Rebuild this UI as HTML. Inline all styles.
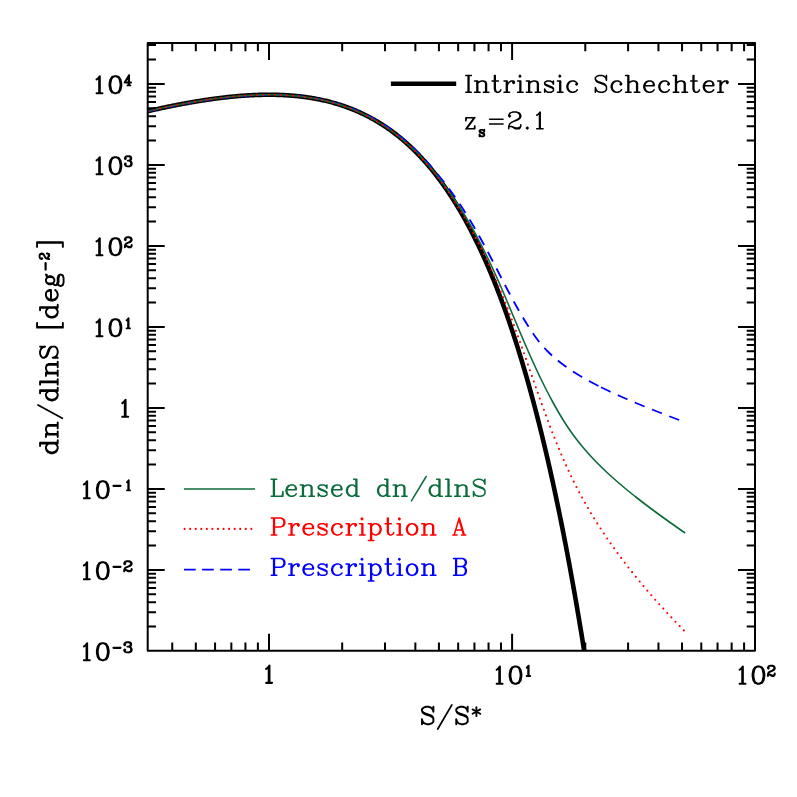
<!DOCTYPE html>
<html><head><meta charset="utf-8"><title>dn/dlnS</title>
<style>
html,body{margin:0;padding:0;background:#fff;}
svg{display:block}
body{font-family:"Liberation Serif",serif}
</style></head><body>
<svg width="797" height="797" viewBox="0 0 797 797">
<rect width="797" height="797" fill="#fff"/>
<defs><clipPath id="cp"><rect x="147.7" y="43.05" width="607.3" height="607.8000000000001"/></clipPath></defs>
<g clip-path="url(#cp)" fill="none" stroke-linejoin="round">
<path d="M147.70 111.13 L148.70 110.91 L149.70 110.68 L150.70 110.46 L151.70 110.23 L152.70 110.01 L153.70 109.79 L154.70 109.57 L155.70 109.35 L156.70 109.13 L157.70 108.91 L158.70 108.69 L159.70 108.48 L160.70 108.26 L161.70 108.05 L162.70 107.84 L163.70 107.63 L164.70 107.42 L165.70 107.21 L166.70 107.00 L167.70 106.80 L168.70 106.59 L169.70 106.39 L170.70 106.18 L171.70 105.98 L172.70 105.78 L173.70 105.58 L174.70 105.39 L175.70 105.19 L176.70 105.00 L177.70 104.80 L178.70 104.61 L179.70 104.42 L180.70 104.23 L181.70 104.04 L182.70 103.85 L183.70 103.67 L184.70 103.49 L185.70 103.30 L186.70 103.12 L187.70 102.94 L188.70 102.76 L189.70 102.59 L190.70 102.41 L191.70 102.24 L192.70 102.07 L193.70 101.90 L194.70 101.73 L195.70 101.56 L196.70 101.39 L197.70 101.23 L198.70 101.07 L199.70 100.90 L200.70 100.74 L201.70 100.59 L202.70 100.43 L203.70 100.28 L204.70 100.12 L205.70 99.97 L206.70 99.82 L207.70 99.68 L208.70 99.53 L209.70 99.39 L210.70 99.24 L211.70 99.10 L212.70 98.96 L213.70 98.83 L214.70 98.69 L215.70 98.56 L216.70 98.43 L217.70 98.30 L218.70 98.17 L219.70 98.05 L220.70 97.92 L221.70 97.80 L222.70 97.68 L223.70 97.57 L224.70 97.45 L225.70 97.34 L226.70 97.23 L227.70 97.12 L228.70 97.01 L229.70 96.91 L230.70 96.80 L231.70 96.70 L232.70 96.60 L233.70 96.51 L234.70 96.42 L235.70 96.32 L236.70 96.23 L237.70 96.15 L238.70 96.06 L239.70 95.98 L240.70 95.90 L241.70 95.83 L242.70 95.75 L243.70 95.68 L244.70 95.61 L245.70 95.54 L246.70 95.48 L247.70 95.41 L248.70 95.35 L249.70 95.30 L250.70 95.24 L251.70 95.19 L252.70 95.14 L253.70 95.10 L254.70 95.05 L255.70 95.01 L256.70 94.97 L257.70 94.94 L258.70 94.91 L259.70 94.88 L260.70 94.85 L261.70 94.83 L262.70 94.81 L263.70 94.79 L264.70 94.77 L265.70 94.76 L266.70 94.75 L267.70 94.75 L268.70 94.74 L269.70 94.75 L270.70 94.75 L271.70 94.76 L272.70 94.77 L273.70 94.78 L274.70 94.80 L275.70 94.82 L276.70 94.84 L277.70 94.87 L278.70 94.90 L279.70 94.93 L280.70 94.97 L281.70 95.01 L282.70 95.05 L283.70 95.10 L284.70 95.15 L285.70 95.21 L286.70 95.27 L287.70 95.33 L288.70 95.40 L289.70 95.47 L290.70 95.54 L291.70 95.62 L292.70 95.70 L293.70 95.79 L294.70 95.88 L295.70 95.97 L296.70 96.07 L297.70 96.17 L298.70 96.28 L299.70 96.39 L300.70 96.50 L301.70 96.62 L302.70 96.74 L303.70 96.87 L304.70 97.00 L305.70 97.14 L306.70 97.28 L307.70 97.43 L308.70 97.57 L309.70 97.73 L310.70 97.89 L311.70 98.05 L312.70 98.22 L313.70 98.39 L314.70 98.57 L315.70 98.75 L316.70 98.94 L317.70 99.14 L318.70 99.33 L319.70 99.54 L320.70 99.74 L321.70 99.96 L322.70 100.18 L323.70 100.40 L324.70 100.63 L325.70 100.86 L326.70 101.10 L327.70 101.35 L328.70 101.60 L329.70 101.85 L330.70 102.11 L331.70 102.38 L332.70 102.66 L333.70 102.93 L334.70 103.22 L335.70 103.51 L336.70 103.81 L337.70 104.11 L338.70 104.42 L339.70 104.73 L340.70 105.05 L341.70 105.38 L342.70 105.71 L343.70 106.05 L344.70 106.40 L345.70 106.75 L346.70 107.11 L347.70 107.48 L348.70 107.85 L349.70 108.23 L350.70 108.61 L351.70 109.01 L352.70 109.41 L353.70 109.81 L354.70 110.23 L355.70 110.65 L356.70 111.07 L357.70 111.51 L358.70 111.95 L359.70 112.40 L360.70 112.86 L361.70 113.32 L362.70 113.80 L363.70 114.28 L364.70 114.76 L365.70 115.26 L366.70 115.76 L367.70 116.27 L368.70 116.79 L369.70 117.32 L370.70 117.86 L371.70 118.40 L372.70 118.95 L373.70 119.51 L374.70 120.08 L375.70 120.66 L376.70 121.25 L377.70 121.84 L378.70 122.45 L379.70 123.06 L380.70 123.68 L381.70 124.31 L382.70 124.95 L383.70 125.60 L384.70 126.26 L385.70 126.93 L386.70 127.61 L387.70 128.30 L388.70 128.99 L389.70 129.70 L390.70 130.42 L391.70 131.14 L392.70 131.88 L393.70 132.63 L394.70 133.39 L395.70 134.15 L396.70 134.93 L397.70 135.72 L398.70 136.52 L399.70 137.33 L400.70 138.15 L401.70 138.98 L402.70 139.83 L403.70 140.68 L404.70 141.55 L405.70 142.43 L406.70 143.31 L407.70 144.22 L408.70 145.13 L409.70 146.05 L410.70 146.99 L411.70 147.94 L412.70 148.90 L413.70 149.87 L414.70 150.85 L415.70 151.85 L416.70 152.86 L417.70 153.88 L418.70 154.92 L419.70 155.97 L420.70 157.03 L421.70 158.11 L422.70 159.20 L423.70 160.30 L424.70 161.41 L425.70 162.54 L426.70 163.69 L427.70 164.84 L428.70 166.02 L429.70 167.20 L430.70 168.40 L431.70 169.62 L432.70 170.85 L433.70 172.09 L434.70 173.35 L435.70 174.63 L436.70 175.92 L437.70 177.23 L438.70 178.55 L439.70 179.88 L440.70 181.24 L441.70 182.61 L442.70 183.99 L443.70 185.39 L444.70 186.81 L445.70 188.25 L446.70 189.70 L447.70 191.17 L448.70 192.65 L449.70 194.16 L450.70 195.68 L451.70 197.22 L452.70 198.77 L453.70 200.35 L454.70 201.94 L455.70 203.55 L456.70 205.18 L457.70 206.82 L458.70 208.49 L459.70 210.18 L460.70 211.88 L461.70 213.61 L462.70 215.35 L463.70 217.11 L464.70 218.90 L465.70 220.70 L466.70 222.52 L467.70 224.37 L468.70 226.23 L469.70 228.12 L470.70 230.03 L471.70 231.96 L472.70 233.91 L473.70 235.88 L474.70 237.87 L475.70 239.89 L476.70 241.93 L477.70 243.99 L478.70 246.07 L479.70 248.18 L480.70 250.31 L481.70 252.46 L482.70 254.64 L483.70 256.84 L484.70 259.06 L485.70 261.31 L486.70 263.59 L487.70 265.89 L488.70 268.21 L489.70 270.56 L490.70 272.93 L491.70 275.33 L492.70 277.76 L493.70 280.21 L494.70 282.69 L495.70 285.20 L496.70 287.73 L497.70 290.29 L498.70 292.88 L499.70 295.49 L500.70 298.14 L501.70 300.81 L502.70 303.51 L503.70 306.24 L504.70 309.00 L505.70 311.79 L506.70 314.60 L507.70 317.45 L508.70 320.33 L509.70 323.24 L510.70 326.18 L511.70 329.15 L512.70 332.15 L513.70 335.18 L514.70 338.25 L515.70 341.35 L516.70 344.48 L517.70 347.64 L518.70 350.84 L519.70 354.07 L520.70 357.33 L521.70 360.63 L522.70 363.97 L523.70 367.33 L524.70 370.74 L525.70 374.18 L526.70 377.65 L527.70 381.16 L528.70 384.71 L529.70 388.29 L530.70 391.92 L531.70 395.58 L532.70 399.27 L533.70 403.01 L534.70 406.78 L535.70 410.60 L536.70 414.45 L537.70 418.34 L538.70 422.28 L539.70 426.25 L540.70 430.27 L541.70 434.32 L542.70 438.42 L543.70 442.56 L544.70 446.74 L545.70 450.97 L546.70 455.24 L547.70 459.55 L548.70 463.91 L549.70 468.31 L550.70 472.76 L551.70 477.25 L552.70 481.79 L553.70 486.37 L554.70 491.00 L555.70 495.68 L556.70 500.41 L557.70 505.18 L558.70 510.01 L559.70 514.88 L560.70 519.80 L561.70 524.77 L562.70 529.79 L563.70 534.87 L564.70 539.99 L565.70 545.17 L566.70 550.40 L567.70 555.68 L568.70 561.01 L569.70 566.40 L570.70 571.85 L571.70 577.35 L572.70 582.90 L573.70 588.51 L574.70 594.18 L575.70 599.90 L576.70 605.68 L577.70 611.52 L578.70 617.42 L579.70 623.38 L580.70 629.40 L581.70 635.47 L582.70 641.61 L583.70 647.81 L584.70 654.08" stroke="#000" stroke-width="4.6"/>
<path d="M147.70 111.53 L148.70 111.30 L149.70 111.08 L150.70 110.85 L151.70 110.63 L152.70 110.40 L153.70 110.18 L154.70 109.96 L155.70 109.73 L156.70 109.51 L157.70 109.30 L158.70 109.08 L159.70 108.86 L160.70 108.65 L161.70 108.43 L162.70 108.22 L163.70 108.01 L164.70 107.79 L165.70 107.58 L166.70 107.38 L167.70 107.17 L168.70 106.96 L169.70 106.76 L170.70 106.55 L171.70 106.35 L172.70 106.15 L173.70 105.95 L174.70 105.75 L175.70 105.55 L176.70 105.36 L177.70 105.16 L178.70 104.97 L179.70 104.78 L180.70 104.59 L181.70 104.40 L182.70 104.21 L183.70 104.02 L184.70 103.84 L185.70 103.65 L186.70 103.47 L187.70 103.29 L188.70 103.11 L189.70 102.93 L190.70 102.75 L191.70 102.58 L192.70 102.41 L193.70 102.23 L194.70 102.06 L195.70 101.89 L196.70 101.73 L197.70 101.56 L198.70 101.40 L199.70 101.23 L200.70 101.07 L201.70 100.91 L202.70 100.76 L203.70 100.60 L204.70 100.45 L205.70 100.29 L206.70 100.14 L207.70 99.99 L208.70 99.85 L209.70 99.70 L210.70 99.56 L211.70 99.42 L212.70 99.28 L213.70 99.14 L214.70 99.00 L215.70 98.87 L216.70 98.74 L217.70 98.61 L218.70 98.48 L219.70 98.35 L220.70 98.23 L221.70 98.10 L222.70 97.98 L223.70 97.86 L224.70 97.75 L225.70 97.63 L226.70 97.52 L227.70 97.41 L228.70 97.30 L229.70 97.20 L230.70 97.09 L231.70 96.99 L232.70 96.89 L233.70 96.79 L234.70 96.70 L235.70 96.61 L236.70 96.52 L237.70 96.43 L238.70 96.34 L239.70 96.26 L240.70 96.18 L241.70 96.10 L242.70 96.02 L243.70 95.95 L244.70 95.88 L245.70 95.81 L246.70 95.74 L247.70 95.68 L248.70 95.62 L249.70 95.56 L250.70 95.51 L251.70 95.45 L252.70 95.40 L253.70 95.35 L254.70 95.31 L255.70 95.27 L256.70 95.23 L257.70 95.19 L258.70 95.16 L259.70 95.13 L260.70 95.09 L261.70 95.06 L262.70 95.03 L263.70 95.01 L264.70 94.98 L265.70 94.96 L266.70 94.95 L267.70 94.93 L268.70 94.92 L269.70 94.91 L270.70 94.91 L271.70 94.91 L272.70 94.91 L273.70 94.92 L274.70 94.92 L275.70 94.94 L276.70 94.95 L277.70 94.97 L278.70 94.99 L279.70 95.02 L280.70 95.05 L281.70 95.08 L282.70 95.11 L283.70 95.15 L284.70 95.20 L285.70 95.24 L286.70 95.30 L287.70 95.35 L288.70 95.41 L289.70 95.47 L290.70 95.53 L291.70 95.60 L292.70 95.67 L293.70 95.75 L294.70 95.82 L295.70 95.91 L296.70 95.99 L297.70 96.08 L298.70 96.18 L299.70 96.28 L300.70 96.38 L301.70 96.49 L302.70 96.60 L303.70 96.72 L304.70 96.84 L305.70 96.96 L306.70 97.09 L307.70 97.23 L308.70 97.36 L309.70 97.51 L310.70 97.66 L311.70 97.81 L312.70 97.97 L313.70 98.13 L314.70 98.29 L315.70 98.47 L316.70 98.64 L317.70 98.82 L318.70 99.01 L319.70 99.20 L320.70 99.40 L321.70 99.60 L322.70 99.81 L323.70 100.02 L324.70 100.24 L325.70 100.46 L326.70 100.69 L327.70 100.92 L328.70 101.16 L329.70 101.41 L330.70 101.66 L331.70 101.92 L332.70 102.18 L333.70 102.45 L334.70 102.73 L335.70 103.01 L336.70 103.30 L337.70 103.59 L338.70 103.89 L339.70 104.20 L340.70 104.51 L341.70 104.83 L342.70 105.16 L343.70 105.49 L344.70 105.83 L345.70 106.17 L346.70 106.52 L347.70 106.88 L348.70 107.24 L349.70 107.61 L350.70 107.99 L351.70 108.37 L352.70 108.77 L353.70 109.16 L354.70 109.57 L355.70 109.98 L356.70 110.40 L357.70 110.83 L358.70 111.26 L359.70 111.70 L360.70 112.15 L361.70 112.60 L362.70 113.06 L363.70 113.52 L364.70 114.00 L365.70 114.48 L366.70 114.97 L367.70 115.47 L368.70 115.97 L369.70 116.49 L370.70 117.01 L371.70 117.54 L372.70 118.08 L373.70 118.62 L374.70 119.18 L375.70 119.74 L376.70 120.32 L377.70 120.90 L378.70 121.49 L379.70 122.09 L380.70 122.70 L381.70 123.31 L382.70 123.94 L383.70 124.58 L384.70 125.22 L385.70 125.88 L386.70 126.54 L387.70 127.21 L388.70 127.90 L389.70 128.59 L390.70 129.29 L391.70 130.01 L392.70 130.73 L393.70 131.46 L394.70 132.21 L395.70 132.96 L396.70 133.73 L397.70 134.50 L398.70 135.29 L399.70 136.09 L400.70 136.88 L401.70 137.69 L402.70 138.50 L403.70 139.33 L404.70 140.17 L405.70 141.02 L406.70 141.88 L407.70 142.75 L408.70 143.64 L409.70 144.53 L410.70 145.44 L411.70 146.36 L412.70 147.30 L413.70 148.24 L414.70 149.20 L415.70 150.17 L416.70 151.15 L417.70 152.15 L418.70 153.16 L419.70 154.18 L420.70 155.20 L421.70 156.23 L422.70 157.27 L423.70 158.33 L424.70 159.40 L425.70 160.49 L426.70 161.58 L427.70 162.70 L428.70 163.82 L429.70 164.96 L430.70 166.12 L431.70 167.29 L432.70 168.47 L433.70 169.67 L434.70 170.89 L435.70 172.12 L436.70 173.36 L442.40 180.00 L443.18 181.00 L443.95 182.00 L444.73 183.00 L445.49 184.00 L446.25 185.00 L447.01 186.00 L447.75 187.00 L448.50 188.00 L449.24 189.00 L449.97 190.00 L450.70 191.00 L451.42 192.00 L452.14 193.00 L452.85 194.00 L453.56 195.00 L454.27 196.00 L454.97 197.00 L455.66 198.00 L456.35 199.00 L457.04 200.00 L457.72 201.00 L458.39 202.00 L459.06 203.00 L459.73 204.00 L460.40 205.00 L461.05 206.00 L461.71 207.00 L462.36 208.00 L463.01 209.00 L463.65 210.00 L464.29 211.00 L464.92 212.00 L465.56 213.00 L466.18 214.00 L466.81 215.00 L467.43 216.00 L468.04 217.00 L468.66 218.00 L469.27 219.00 L469.87 220.00 L470.48 221.00 L471.08 222.00 L471.67 223.00 L472.27 224.00 L472.86 225.00 L473.45 226.00 L474.03 227.00 L474.61 228.00 L475.19 229.00 L475.77 230.00 L476.34 231.00 L476.91 232.00 L477.48 233.00 L478.05 234.00 L478.61 235.00 L479.17 236.00 L479.73 237.00 L480.29 238.00 L480.84 239.00 L481.39 240.00 L481.94 241.00 L482.49 242.00 L483.04 243.00 L483.58 244.00 L484.13 245.00 L484.67 246.00 L485.21 247.00 L485.74 248.00 L486.28 249.00 L486.81 250.00 L487.35 251.00 L487.88 252.00 L488.41 253.00 L488.94 254.00 L489.46 255.00 L489.99 256.00 L490.51 257.00 L491.04 258.00 L491.56 259.00 L492.08 260.00 L492.61 261.00 L493.13 262.00 L493.65 263.00 L494.16 264.00 L494.68 265.00 L495.20 266.00 L495.72 267.00 L496.24 268.00 L496.75 269.00 L497.27 270.00 L497.78 271.00 L498.30 272.00 L498.82 273.00 L499.33 274.00 L499.85 275.00 L500.36 276.00 L500.88 277.00 L501.39 278.00 L501.91 279.00 L502.43 280.00 L502.94 281.00 L503.46 282.00 L503.98 283.00 L504.50 284.00 L505.02 285.00 L505.54 286.00 L506.06 287.00 L506.58 288.00 L507.10 289.00 L507.63 290.00 L508.15 291.00 L508.68 292.00 L509.21 293.00 L509.74 294.00 L510.27 295.00 L510.80 296.00 L511.34 297.00 L511.88 298.00 L512.42 299.00 L512.96 300.00 L513.50 301.00 L514.05 302.00 L514.60 303.00 L515.15 304.00 L515.70 305.00 L516.26 306.00 L516.82 307.00 L517.38 308.00 L517.95 309.00 L518.52 310.00 L519.09 311.00 L519.67 312.00 L520.24 313.00 L520.83 314.00 L521.41 315.00 L522.00 316.00 L522.60 317.00 L523.20 318.00 L523.80 319.00 L524.40 320.00 L525.01 321.00 L525.63 322.00 L526.25 323.00 L526.87 324.00 L527.50 325.00 L528.13 326.00 L528.77 327.00 L529.41 328.00 L530.06 329.00 L530.71 330.00 L531.37 331.00 L532.04 332.00 L532.72 333.00 L533.40 334.00 L534.10 335.00 L534.81 336.00 L535.52 337.00 L536.26 338.00 L537.00 339.00 L537.76 340.00 L538.53 341.00 L539.32 342.00 L540.13 343.00 L540.95 344.00 L541.80 345.00 L542.66 346.00 L543.54 347.00 L544.45 348.00 L545.37 349.00 L546.32 350.00 L547.29 351.00 L548.29 352.00 L549.31 353.00 L550.36 354.00 L551.43 355.00 L552.53 356.00 L553.66 357.00 L554.81 358.00 L555.99 359.00 L557.20 360.00 L558.43 361.00 L559.69 362.00 L560.97 363.00 L562.29 364.00 L563.63 365.00 L565.00 366.00 L566.40 367.00 L567.82 368.00 L569.28 369.00 L570.76 370.00 L572.27 371.00 L573.81 372.00 L575.38 373.00 L576.98 374.00 L578.61 375.00 L580.27 376.00 L581.96 377.00 L583.68 378.00 L585.43 379.00 L587.21 380.00 L589.02 381.00 L590.86 382.00 L592.73 383.00 L594.64 384.00 L596.57 385.00 L598.54 386.00" stroke="#0000ff" stroke-width="1.8" stroke-dasharray="10.8 7.8" stroke-dashoffset="0"/>
<path d="M601.00 387.23 L602.56 388.00 L604.61 389.00 L606.69 390.00 L608.80 391.00 L610.94 392.00 L613.10 393.00 L615.28 394.00 L617.50 395.00 L619.73 396.00 L621.99 397.00 L624.28 398.00 L626.58 399.00 L628.91 400.00 L631.26 401.00 L633.63 402.00 L636.02 403.00 L638.43 404.00 L640.86 405.00 L643.30 406.00 L645.77 407.00 L648.25 408.00 L650.74 409.00 L653.26 410.00 L655.78 411.00 L658.33 412.00 L660.88 413.00 L663.45 414.00 L666.03 415.00 L668.62 416.00 L671.23 417.00 L673.84 418.00 L676.47 419.00 L679.10 420.00 L681.74 421.00 L684.39 422.00" stroke="#0000ff" stroke-width="1.8" stroke-dasharray="10.6 7.95" stroke-dashoffset="0"/>
<path d="M147.70 111.13 L148.70 110.91 L149.70 110.68 L150.70 110.46 L151.70 110.23 L152.70 110.01 L153.70 109.79 L154.70 109.57 L155.70 109.35 L156.70 109.13 L157.70 108.91 L158.70 108.69 L159.70 108.48 L160.70 108.26 L161.70 108.05 L162.70 107.84 L163.70 107.63 L164.70 107.42 L165.70 107.21 L166.70 107.00 L167.70 106.80 L168.70 106.59 L169.70 106.39 L170.70 106.18 L171.70 105.98 L172.70 105.78 L173.70 105.58 L174.70 105.39 L175.70 105.19 L176.70 105.00 L177.70 104.80 L178.70 104.61 L179.70 104.42 L180.70 104.23 L181.70 104.04 L182.70 103.85 L183.70 103.67 L184.70 103.49 L185.70 103.30 L186.70 103.12 L187.70 102.94 L188.70 102.76 L189.70 102.59 L190.70 102.41 L191.70 102.24 L192.70 102.07 L193.70 101.90 L194.70 101.73 L195.70 101.56 L196.70 101.39 L197.70 101.23 L198.70 101.07 L199.70 100.90 L200.70 100.74 L201.70 100.59 L202.70 100.43 L203.70 100.28 L204.70 100.12 L205.70 99.97 L206.70 99.82 L207.70 99.68 L208.70 99.53 L209.70 99.39 L210.70 99.24 L211.70 99.10 L212.70 98.96 L213.70 98.83 L214.70 98.69 L215.70 98.56 L216.70 98.43 L217.70 98.30 L218.70 98.17 L219.70 98.05 L220.70 97.92 L221.70 97.80 L222.70 97.68 L223.70 97.57 L224.70 97.45 L225.70 97.34 L226.70 97.23 L227.70 97.12 L228.70 97.01 L229.70 96.91 L230.70 96.80 L231.70 96.70 L232.70 96.60 L233.70 96.51 L234.70 96.42 L235.70 96.32 L236.70 96.23 L237.70 96.15 L238.70 96.06 L239.70 95.98 L240.70 95.90 L241.70 95.83 L242.70 95.75 L243.70 95.68 L244.70 95.61 L245.70 95.54 L246.70 95.48 L247.70 95.41 L248.70 95.35 L249.70 95.30 L250.70 95.24 L251.70 95.19 L252.70 95.14 L253.70 95.10 L254.70 95.05 L255.70 95.01 L256.70 94.97 L257.70 94.94 L258.70 94.91 L259.70 94.88 L260.70 94.85 L261.70 94.83 L262.70 94.81 L263.70 94.79 L264.70 94.77 L265.70 94.76 L266.70 94.75 L267.70 94.75 L268.70 94.74 L269.70 94.75 L270.70 94.75 L271.70 94.76 L272.70 94.77 L273.70 94.78 L274.70 94.80 L275.70 94.82 L276.70 94.84 L277.70 94.87 L278.70 94.90 L279.70 94.93 L280.70 94.97 L281.70 95.01 L282.70 95.05 L283.70 95.10 L284.70 95.15 L285.70 95.21 L286.70 95.27 L287.70 95.33 L288.70 95.40 L289.70 95.47 L290.70 95.54 L291.70 95.62 L292.70 95.70 L293.70 95.79 L294.70 95.88 L295.70 95.97 L296.70 96.07 L297.70 96.17 L298.70 96.28 L299.70 96.39 L300.70 96.50 L301.70 96.62 L302.70 96.74 L303.70 96.87 L304.70 97.00 L305.70 97.14 L306.70 97.28 L307.70 97.43 L308.70 97.57 L309.70 97.73 L310.70 97.89 L311.70 98.05 L312.70 98.22 L313.70 98.39 L314.70 98.57 L315.70 98.75 L316.70 98.94 L317.70 99.14 L318.70 99.33 L319.70 99.54 L320.70 99.74 L321.70 99.96 L322.70 100.18 L323.70 100.40 L324.70 100.63 L325.70 100.86 L326.70 101.10 L327.70 101.35 L328.70 101.60 L329.70 101.85 L330.70 102.11 L331.70 102.38 L332.70 102.66 L333.70 102.93 L334.70 103.22 L335.70 103.51 L336.70 103.81 L337.70 104.11 L338.70 104.42 L339.70 104.73 L340.70 105.05 L341.70 105.38 L342.70 105.71 L343.70 106.05 L344.70 106.40 L345.70 106.75 L346.70 107.11 L347.70 107.48 L348.70 107.85 L349.70 108.23 L350.70 108.61 L351.70 109.01 L352.70 109.41 L353.70 109.81 L354.70 110.23 L355.70 110.65 L356.70 111.07 L357.70 111.51 L358.70 111.95 L359.70 112.40 L360.70 112.86 L361.70 113.32 L362.70 113.80 L363.70 114.28 L364.70 114.76 L365.70 115.26 L366.70 115.76 L367.70 116.27 L368.70 116.79 L369.70 117.32 L370.70 117.86 L371.70 118.40 L372.70 118.95 L373.70 119.51 L374.70 120.08 L375.70 120.66 L376.70 121.25 L377.70 121.84 L378.70 122.45 L379.70 123.06 L380.70 123.68 L381.70 124.31 L382.70 124.95 L383.70 125.60 L384.70 126.26 L385.70 126.93 L386.70 127.61 L387.70 128.30 L388.70 128.99 L389.70 129.70 L390.70 130.42 L391.70 131.14 L392.70 131.88 L393.70 132.63 L394.70 133.39 L395.70 134.15 L396.70 134.93 L397.70 135.72 L398.70 136.52 L399.70 137.33 L400.70 138.15 L401.70 138.98 L402.70 139.83 L403.70 140.68 L404.70 141.55 L405.70 142.43 L406.70 143.31 L407.70 144.22 L408.70 145.13 L409.70 146.05 L410.70 146.99 L411.70 147.94 L412.70 148.90 L413.70 149.87 L414.65 150.00 L415.59 151.00 L416.53 152.00 L417.46 153.00 L418.38 154.00 L419.30 155.00 L420.21 156.00 L421.12 157.00 L422.02 158.00 L422.91 159.00 L423.80 160.00 L424.68 161.00 L425.55 162.00 L426.42 163.00 L427.29 164.00 L428.14 165.00 L429.00 166.00 L429.84 167.00 L430.68 168.00 L431.52 169.00 L432.35 170.00 L433.17 171.00 L433.99 172.00 L434.80 173.00 L435.61 174.00 L436.41 175.00 L437.20 176.00 L438.00 177.00 L438.78 178.00 L439.56 179.00 L440.34 180.00 L441.11 181.00 L441.87 182.00 L442.63 183.00 L443.38 184.00 L444.13 185.00 L444.88 186.00 L445.62 187.00 L446.35 188.00 L447.08 189.00 L447.80 190.00 L448.52 191.00 L449.24 192.00 L449.95 193.00 L450.65 194.00 L451.35 195.00 L452.05 196.00 L452.74 197.00 L453.43 198.00 L454.11 199.00 L454.79 200.00 L455.46 201.00 L456.13 202.00 L456.79 203.00 L457.45 204.00 L458.11 205.00 L458.76 206.00 L459.41 207.00 L460.05 208.00 L460.69 209.00 L461.33 210.00 L461.96 211.00 L462.59 212.00 L463.21 213.00 L463.83 214.00 L464.44 215.00 L465.05 216.00 L465.66 217.00 L466.27 218.00 L466.87 219.00 L467.46 220.00 L468.05 221.00 L468.64 222.00 L469.23 223.00 L469.81 224.00 L470.39 225.00 L470.96 226.00 L471.53 227.00 L472.10 228.00 L472.67 229.00 L473.23 230.00 L473.79 231.00 L474.34 232.00 L474.89 233.00 L475.44 234.00 L475.98 235.00 L476.53 236.00 L477.07 237.00 L477.60 238.00 L478.13 239.00 L478.66 240.00 L479.19 241.00 L479.72 242.00 L480.24 243.00 L480.76 244.00 L481.27 245.00 L481.78 246.00 L482.30 247.00 L482.80 248.00 L483.31 249.00 L483.81 250.00 L484.31 251.00 L484.81 252.00 L485.30 253.00 L485.80 254.00 L486.29 255.00 L486.78 256.00 L487.26 257.00 L487.74 258.00 L488.23 259.00 L488.71 260.00 L489.18 261.00 L489.66 262.00 L490.13 263.00 L490.60 264.00 L491.07 265.00 L491.54 266.00 L492.00 267.00 L492.47 268.00 L492.93 269.00 L493.39 270.00 L493.84 271.00 L494.30 272.00 L494.75 273.00 L495.21 274.00 L495.66 275.00 L496.11 276.00 L496.56 277.00 L497.00 278.00 L497.45 279.00 L497.89 280.00 L498.33 281.00 L498.78 282.00 L499.22 283.00 L499.65 284.00 L500.09 285.00 L500.53 286.00 L500.96 287.00 L501.40 288.00 L501.83 289.00 L502.26 290.00 L502.69 291.00 L503.12 292.00 L503.55 293.00 L503.98 294.00 L504.41 295.00 L504.83 296.00 L505.26 297.00 L505.68 298.00 L506.11 299.00 L506.53 300.00 L506.96 301.00 L507.38 302.00 L507.80 303.00 L508.22 304.00 L508.64 305.00 L509.06 306.00 L509.48 307.00 L509.90 308.00 L510.32 309.00 L510.74 310.00 L511.16 311.00 L511.58 312.00 L512.00 313.00 L512.41 314.00 L512.83 315.00 L513.25 316.00 L513.67 317.00 L514.09 318.00 L514.50 319.00 L514.92 320.00 L515.34 321.00 L515.76 322.00 L516.18 323.00 L516.60 324.00 L517.01 325.00 L517.43 326.00 L517.85 327.00 L518.27 328.00 L518.69 329.00 L519.11 330.00 L519.53 331.00 L519.95 332.00 L520.38 333.00 L520.80 334.00 L521.22 335.00 L521.65 336.00 L522.07 337.00 L522.49 338.00 L522.92 339.00 L523.35 340.00 L523.77 341.00 L524.20 342.00 L524.63 343.00 L525.06 344.00 L525.49 345.00 L525.92 346.00 L526.36 347.00 L526.79 348.00 L527.22 349.00 L527.66 350.00 L528.10 351.00 L528.54 352.00 L528.98 353.00 L529.42 354.00 L529.86 355.00 L530.30 356.00 L530.75 357.00 L531.19 358.00 L531.64 359.00 L532.09 360.00 L532.54 361.00 L532.99 362.00 L533.45 363.00 L533.90 364.00 L534.36 365.00 L534.82 366.00 L535.28 367.00 L535.74 368.00 L536.20 369.00 L536.67 370.00 L537.14 371.00 L537.60 372.00 L538.08 373.00 L538.55 374.00 L539.02 375.00 L539.50 376.00 L539.98 377.00 L540.46 378.00 L540.95 379.00 L541.43 380.00 L541.92 381.00 L542.41 382.00 L542.90 383.00 L543.40 384.00 L543.90 385.00 L544.40 386.00 L544.90 387.00 L545.40 388.00 L545.91 389.00 L546.42 390.00 L546.93 391.00 L547.45 392.00 L547.96 393.00 L548.48 394.00 L549.01 395.00 L549.53 396.00 L550.06 397.00 L550.59 398.00 L551.13 399.00 L551.66 400.00 L552.20 401.00 L552.74 402.00 L553.29 403.00 L553.84 404.00 L554.39 405.00 L554.95 406.00 L555.51 407.00 L556.07 408.00 L556.64 409.00 L557.21 410.00 L557.78 411.00 L558.36 412.00 L558.94 413.00 L559.53 414.00 L560.13 415.00 L560.73 416.00 L561.33 417.00 L561.94 418.00 L562.55 419.00 L563.17 420.00 L563.80 421.00 L564.43 422.00 L565.07 423.00 L565.72 424.00 L566.37 425.00 L567.03 426.00 L567.69 427.00 L568.37 428.00 L569.05 429.00 L569.73 430.00 L570.43 431.00 L571.13 432.00 L571.84 433.00 L572.56 434.00 L573.29 435.00 L574.02 436.00 L574.77 437.00 L575.52 438.00 L576.28 439.00 L577.05 440.00 L577.83 441.00 L578.62 442.00 L579.42 443.00 L580.22 444.00 L581.04 445.00 L581.86 446.00 L582.70 447.00 L583.54 448.00 L584.39 449.00 L585.25 450.00 L586.12 451.00 L587.00 452.00 L587.89 453.00 L588.79 454.00 L589.70 455.00 L590.61 456.00 L591.54 457.00 L592.47 458.00 L593.42 459.00 L594.37 460.00 L595.33 461.00 L596.30 462.00 L597.28 463.00 L598.27 464.00 L599.27 465.00 L600.28 466.00 L601.30 467.00 L602.32 468.00 L603.36 469.00 L604.40 470.00 L605.45 471.00 L606.52 472.00 L607.59 473.00 L608.67 474.00 L609.76 475.00 L610.86 476.00 L611.97 477.00 L613.08 478.00 L614.21 479.00 L615.34 480.00 L616.49 481.00 L617.64 482.00 L618.80 483.00 L619.96 484.00 L621.14 485.00 L622.32 486.00 L623.51 487.00 L624.71 488.00 L625.92 489.00 L627.13 490.00 L628.36 491.00 L629.58 492.00 L630.82 493.00 L632.07 494.00 L633.32 495.00 L634.57 496.00 L635.84 497.00 L637.11 498.00 L638.39 499.00 L639.67 500.00 L640.97 501.00 L642.26 502.00 L643.57 503.00 L644.88 504.00 L646.20 505.00 L647.52 506.00 L648.85 507.00 L650.18 508.00 L651.52 509.00 L652.87 510.00 L654.22 511.00 L655.58 512.00 L656.94 513.00 L658.31 514.00 L659.68 515.00 L661.06 516.00 L662.44 517.00 L663.83 518.00 L665.22 519.00 L666.62 520.00 L668.02 521.00 L669.42 522.00 L670.83 523.00 L672.25 524.00 L673.67 525.00 L675.09 526.00 L676.52 527.00 L677.95 528.00 L679.38 529.00 L680.82 530.00 L682.27 531.00 L683.71 532.00 L685.16 533.00" stroke="#0b6b3b" stroke-width="1.6"/>
<path d="M148.53 110.95h0.01M154.31 109.65h0.01M160.10 108.39h0.01M165.90 107.17h0.01M171.70 105.98h0.01M177.52 104.84h0.01M183.34 103.74h0.01M189.17 102.68h0.01M195.01 101.67h0.01M200.85 100.72h0.01M206.71 99.82h0.01M209.93 99.35h0.01M215.80 98.55h0.01M221.68 97.80h0.01M227.57 97.13h0.01M233.47 96.53h0.01M239.38 96.01h0.01M245.29 95.57h0.01M251.21 95.22h0.01M257.13 94.96h0.01M263.06 94.80h0.01M268.98 94.74h0.01M274.91 94.80h0.01M280.84 94.97h0.01M286.76 95.27h0.01M292.67 95.70h0.01M298.57 96.26h0.01M304.46 96.97h0.01M310.33 97.83h0.01M316.17 98.84h0.01M321.98 100.02h0.01M327.75 101.36h0.01M333.48 102.87h0.01M339.21 104.58h0.01M344.88 106.46h0.01M350.49 108.53h0.01M356.02 110.78h0.01M361.48 113.22h0.01M366.85 115.84h0.01M372.13 118.64h0.01M377.31 121.61h0.01M382.40 124.76h0.01M387.37 128.07h0.01M392.24 131.54h0.01M396.99 135.16h0.01M401.63 138.93h0.01M406.15 142.83h0.01M410.56 146.86h0.01M414.86 151.01h0.01M419.04 155.28h0.01M423.12 159.65h0.01M427.08 164.13h0.01M430.94 168.69h0.01M434.69 173.34h0.01M438.34 178.07h0.01M441.95 182.79h0.01M445.34 187.63h0.01M448.66 192.51h0.01M451.93 197.43h0.01M455.14 202.40h0.01M458.28 207.40h0.01M461.37 212.43h0.01M464.40 217.51h0.01M467.36 222.62h0.01M470.27 227.76h0.01M473.12 232.94h0.01M475.90 238.15h0.01M478.63 243.39h0.01M481.31 248.65h0.01M483.93 253.95h0.01M486.49 259.27h0.01M489.01 264.62h0.01M491.47 269.99h0.01M493.88 275.38h0.01M496.24 280.80h0.01M498.58 286.28h0.01M500.88 291.79h0.01M503.14 297.31h0.01M505.35 302.85h0.01M507.53 308.41h0.01M509.68 313.98h0.01M511.79 319.56h0.01M513.88 325.15h0.01M515.93 330.75h0.01M517.97 336.36h0.01M519.99 341.97h0.01M521.98 347.59h0.01M523.98 353.25h0.01M525.96 358.90h0.01M527.94 364.56h0.01M529.91 370.22h0.01M531.88 375.88h0.01M533.86 381.53h0.01M535.84 387.19h0.01M537.82 392.84h0.01M539.83 398.49h0.01M541.84 404.14h0.01M543.88 409.77h0.01M545.93 415.40h0.01M548.01 421.02h0.01M550.12 426.63h0.01M552.27 432.23h0.01M554.45 437.81h0.01M556.68 443.37h0.01M558.95 448.92h0.01M561.27 454.44h0.01M563.65 459.94h0.01M566.09 465.42h0.01M568.58 470.86h0.01M571.14 476.28h0.01M573.77 481.67h0.01M576.46 487.02h0.01M579.23 492.34h0.01M582.07 497.62h0.01M584.98 502.85h0.01M587.96 508.05h0.01M591.01 513.21h0.01M594.12 518.33h0.01M597.30 523.42h0.01M600.53 528.46h0.01M603.83 533.46h0.01M607.18 538.43h0.01M610.59 543.36h0.01M614.06 548.25h0.01M617.57 553.10h0.01M621.13 557.92h0.01M624.75 562.70h0.01M628.41 567.45h0.01M632.11 572.16h0.01M635.86 576.83h0.01M639.65 581.47h0.01M643.49 586.08h0.01M647.36 590.65h0.01M651.27 595.19h0.01M655.22 599.70h0.01M659.20 604.18h0.01M663.22 608.62h0.01M667.27 613.04h0.01M671.36 617.42h0.01M675.48 621.77h0.01M679.63 626.10h0.01M683.81 630.39h0.01" stroke="#ff0000" stroke-width="2.1" stroke-linecap="round"/>
</g>
<path d="M147.70 626.57L156.00 626.57M755.00 626.57L746.70 626.57M147.70 612.30L156.00 612.30M755.00 612.30L746.70 612.30M147.70 602.18L156.00 602.18M755.00 602.18L746.70 602.18M147.70 594.33L156.00 594.33M755.00 594.33L746.70 594.33M147.70 587.92L156.00 587.92M755.00 587.92L746.70 587.92M147.70 582.50L156.00 582.50M755.00 582.50L746.70 582.50M147.70 577.80L156.00 577.80M755.00 577.80L746.70 577.80M147.70 573.66L156.00 573.66M755.00 573.66L746.70 573.66M147.70 569.95L164.70 569.95M755.00 569.95L738.00 569.95M147.70 545.57L156.00 545.57M755.00 545.57L746.70 545.57M147.70 531.30L156.00 531.30M755.00 531.30L746.70 531.30M147.70 521.18L156.00 521.18M755.00 521.18L746.70 521.18M147.70 513.33L156.00 513.33M755.00 513.33L746.70 513.33M147.70 506.92L156.00 506.92M755.00 506.92L746.70 506.92M147.70 501.50L156.00 501.50M755.00 501.50L746.70 501.50M147.70 496.80L156.00 496.80M755.00 496.80L746.70 496.80M147.70 492.66L156.00 492.66M755.00 492.66L746.70 492.66M147.70 488.95L164.70 488.95M755.00 488.95L738.00 488.95M147.70 464.57L156.00 464.57M755.00 464.57L746.70 464.57M147.70 450.30L156.00 450.30M755.00 450.30L746.70 450.30M147.70 440.18L156.00 440.18M755.00 440.18L746.70 440.18M147.70 432.33L156.00 432.33M755.00 432.33L746.70 432.33M147.70 425.92L156.00 425.92M755.00 425.92L746.70 425.92M147.70 420.50L156.00 420.50M755.00 420.50L746.70 420.50M147.70 415.80L156.00 415.80M755.00 415.80L746.70 415.80M147.70 411.66L156.00 411.66M755.00 411.66L746.70 411.66M147.70 407.95L164.70 407.95M755.00 407.95L738.00 407.95M147.70 383.57L156.00 383.57M755.00 383.57L746.70 383.57M147.70 369.30L156.00 369.30M755.00 369.30L746.70 369.30M147.70 359.18L156.00 359.18M755.00 359.18L746.70 359.18M147.70 351.33L156.00 351.33M755.00 351.33L746.70 351.33M147.70 344.92L156.00 344.92M755.00 344.92L746.70 344.92M147.70 339.50L156.00 339.50M755.00 339.50L746.70 339.50M147.70 334.80L156.00 334.80M755.00 334.80L746.70 334.80M147.70 330.66L156.00 330.66M755.00 330.66L746.70 330.66M147.70 326.95L164.70 326.95M755.00 326.95L738.00 326.95M147.70 302.57L156.00 302.57M755.00 302.57L746.70 302.57M147.70 288.30L156.00 288.30M755.00 288.30L746.70 288.30M147.70 278.18L156.00 278.18M755.00 278.18L746.70 278.18M147.70 270.33L156.00 270.33M755.00 270.33L746.70 270.33M147.70 263.92L156.00 263.92M755.00 263.92L746.70 263.92M147.70 258.50L156.00 258.50M755.00 258.50L746.70 258.50M147.70 253.80L156.00 253.80M755.00 253.80L746.70 253.80M147.70 249.66L156.00 249.66M755.00 249.66L746.70 249.66M147.70 245.95L164.70 245.95M755.00 245.95L738.00 245.95M147.70 221.57L156.00 221.57M755.00 221.57L746.70 221.57M147.70 207.30L156.00 207.30M755.00 207.30L746.70 207.30M147.70 197.18L156.00 197.18M755.00 197.18L746.70 197.18M147.70 189.33L156.00 189.33M755.00 189.33L746.70 189.33M147.70 182.92L156.00 182.92M755.00 182.92L746.70 182.92M147.70 177.50L156.00 177.50M755.00 177.50L746.70 177.50M147.70 172.80L156.00 172.80M755.00 172.80L746.70 172.80M147.70 168.66L156.00 168.66M755.00 168.66L746.70 168.66M147.70 164.95L164.70 164.95M755.00 164.95L738.00 164.95M147.70 140.57L156.00 140.57M755.00 140.57L746.70 140.57M147.70 126.30L156.00 126.30M755.00 126.30L746.70 126.30M147.70 116.18L156.00 116.18M755.00 116.18L746.70 116.18M147.70 108.33L156.00 108.33M755.00 108.33L746.70 108.33M147.70 101.92L156.00 101.92M755.00 101.92L746.70 101.92M147.70 96.50L156.00 96.50M755.00 96.50L746.70 96.50M147.70 91.80L156.00 91.80M755.00 91.80L746.70 91.80M147.70 87.66L156.00 87.66M755.00 87.66L746.70 87.66M147.70 83.95L164.70 83.95M755.00 83.95L738.00 83.95M147.70 59.57L156.00 59.57M755.00 59.57L746.70 59.57M147.70 44.90L156.00 44.90M755.00 44.90L746.70 44.90M172.26 650.85L172.26 642.55M172.26 43.05L172.26 51.35M195.82 650.85L195.82 642.55M195.82 43.05L195.82 51.35M215.07 650.85L215.07 642.55M215.07 43.05L215.07 51.35M231.34 650.85L231.34 642.55M231.34 43.05L231.34 51.35M245.44 650.85L245.44 642.55M245.44 43.05L245.44 51.35M257.88 650.85L257.88 642.55M257.88 43.05L257.88 51.35M269.00 650.85L269.00 633.85M269.00 43.05L269.00 60.05M342.18 650.85L342.18 642.55M342.18 43.05L342.18 51.35M384.99 650.85L384.99 642.55M384.99 43.05L384.99 51.35M415.36 650.85L415.36 642.55M415.36 43.05L415.36 51.35M438.92 650.85L438.92 642.55M438.92 43.05L438.92 51.35M458.17 650.85L458.17 642.55M458.17 43.05L458.17 51.35M474.44 650.85L474.44 642.55M474.44 43.05L474.44 51.35M488.54 650.85L488.54 642.55M488.54 43.05L488.54 51.35M500.98 650.85L500.98 642.55M500.98 43.05L500.98 51.35M512.10 650.85L512.10 633.85M512.10 43.05L512.10 60.05M585.28 650.85L585.28 642.55M585.28 43.05L585.28 51.35M628.09 650.85L628.09 642.55M628.09 43.05L628.09 51.35M658.46 650.85L658.46 642.55M658.46 43.05L658.46 51.35M682.02 650.85L682.02 642.55M682.02 43.05L682.02 51.35M701.27 650.85L701.27 642.55M701.27 43.05L701.27 51.35M717.54 650.85L717.54 642.55M717.54 43.05L717.54 51.35M731.64 650.85L731.64 642.55M731.64 43.05L731.64 51.35M744.08 650.85L744.08 642.55M744.08 43.05L744.08 51.35" stroke="#000" stroke-width="2" fill="none" stroke-linecap="butt"/>
<rect x="147.7" y="43.05" width="607.3" height="607.8000000000001" fill="none" stroke="#000" stroke-width="2.0" stroke-linejoin="round"/>
<path d="M83.88 646.44L85.20 645.63L87.18 643.21L87.18 660.18M86.52 644.02L86.52 660.18M83.88 660.18L89.83 660.18" fill="none" stroke="#000" stroke-width="1.95" stroke-linecap="round" stroke-linejoin="round"/><path d="M101.93 643.21L99.40 644.02L97.72 646.44L96.88 650.48L96.88 652.90L97.72 656.94L99.40 659.37L101.93 660.18L103.62 660.18L106.15 659.37L107.83 656.94L108.68 652.90L108.68 650.48L107.83 646.44L106.15 644.02L103.62 643.21L101.93 643.21M101.93 643.21L100.25 644.02L99.40 644.82L98.56 646.44L97.72 650.48L97.72 652.90L98.56 656.94L99.40 658.56L100.25 659.37L101.93 660.18M103.62 660.18L105.30 659.37L106.15 658.56L106.99 656.94L107.83 652.90L107.83 650.48L106.99 646.44L106.15 644.82L105.30 644.02L103.62 643.21" fill="none" stroke="#000" stroke-width="1.95" stroke-linecap="round" stroke-linejoin="round"/>
<path d="M113.50 647.85L120.50 647.85" fill="none" stroke="#000" stroke-width="2.20" stroke-linecap="round"/>
<path d="M124.75 644.22L125.28 644.70L124.75 645.18L124.22 644.70L124.22 644.22L124.75 643.26L125.28 642.78L126.87 642.30L128.98 642.30L130.57 642.78L131.10 643.74L131.10 645.18L130.57 646.14L128.98 646.62L127.40 646.62M128.98 642.30L130.04 642.78L130.57 643.74L130.57 645.18L130.04 646.14L128.98 646.62M128.98 646.62L130.04 647.10L131.10 648.06L131.63 649.02L131.63 650.46L131.10 651.42L130.57 651.90L128.98 652.38L126.87 652.38L125.28 651.90L124.75 651.42L124.22 650.46L124.22 649.98L124.75 649.50L125.28 649.98L124.75 650.46M130.57 647.58L131.10 649.02L131.10 650.46L130.57 651.42L130.04 651.90L128.98 652.38" fill="none" stroke="#000" stroke-width="1.95" stroke-linecap="round" stroke-linejoin="round"/>
<path d="M83.88 565.44L85.20 564.63L87.18 562.21L87.18 579.18M86.52 563.02L86.52 579.18M83.88 579.18L89.83 579.18" fill="none" stroke="#000" stroke-width="1.95" stroke-linecap="round" stroke-linejoin="round"/><path d="M101.93 562.21L99.40 563.02L97.72 565.44L96.88 569.48L96.88 571.90L97.72 575.94L99.40 578.37L101.93 579.18L103.62 579.18L106.15 578.37L107.83 575.94L108.68 571.90L108.68 569.48L107.83 565.44L106.15 563.02L103.62 562.21L101.93 562.21M101.93 562.21L100.25 563.02L99.40 563.82L98.56 565.44L97.72 569.48L97.72 571.90L98.56 575.94L99.40 577.56L100.25 578.37L101.93 579.18M103.62 579.18L105.30 578.37L106.15 577.56L106.99 575.94L107.83 571.90L107.83 569.48L106.99 565.44L106.15 563.82L105.30 563.02L103.62 562.21" fill="none" stroke="#000" stroke-width="1.95" stroke-linecap="round" stroke-linejoin="round"/>
<path d="M113.50 566.85L120.50 566.85" fill="none" stroke="#000" stroke-width="2.20" stroke-linecap="round"/>
<path d="M124.75 563.22L125.28 563.70L124.75 564.18L124.22 563.70L124.22 563.22L124.75 562.26L125.28 561.78L126.87 561.30L128.98 561.30L130.57 561.78L131.10 562.26L131.63 563.22L131.63 564.18L131.10 565.14L129.51 566.10L126.87 567.06L125.81 567.54L124.75 568.50L124.22 569.94L124.22 571.38M128.98 561.30L130.04 561.78L130.57 562.26L131.10 563.22L131.10 564.18L130.57 565.14L128.98 566.10L126.87 567.06M124.22 570.42L124.75 569.94L125.81 569.94L128.45 570.90L130.04 570.90L131.10 570.42L131.63 569.94M125.81 569.94L128.45 571.38L130.57 571.38L131.10 570.90L131.63 569.94L131.63 568.98" fill="none" stroke="#000" stroke-width="1.95" stroke-linecap="round" stroke-linejoin="round"/>
<path d="M83.88 484.44L85.20 483.63L87.18 481.21L87.18 498.17M86.52 482.01L86.52 498.17M83.88 498.17L89.83 498.17" fill="none" stroke="#000" stroke-width="1.95" stroke-linecap="round" stroke-linejoin="round"/><path d="M101.93 481.21L99.40 482.01L97.72 484.44L96.88 488.48L96.88 490.90L97.72 494.94L99.40 497.37L101.93 498.17L103.62 498.17L106.15 497.37L107.83 494.94L108.68 490.90L108.68 488.48L107.83 484.44L106.15 482.01L103.62 481.21L101.93 481.21M101.93 481.21L100.25 482.01L99.40 482.82L98.56 484.44L97.72 488.48L97.72 490.90L98.56 494.94L99.40 496.56L100.25 497.37L101.93 498.17M103.62 498.17L105.30 497.37L106.15 496.56L106.99 494.94L107.83 490.90L107.83 488.48L106.99 484.44L106.15 482.82L105.30 482.01L103.62 481.21" fill="none" stroke="#000" stroke-width="1.95" stroke-linecap="round" stroke-linejoin="round"/>
<path d="M113.50 485.85L120.50 485.85" fill="none" stroke="#000" stroke-width="2.20" stroke-linecap="round"/>
<path d="M126.97 482.21L127.65 481.73L128.67 480.29L128.67 490.37M128.33 480.77L128.33 490.37M126.97 490.37L130.03 490.37" fill="none" stroke="#000" stroke-width="1.95" stroke-linecap="round" stroke-linejoin="round"/>
<path d="M122.25 403.06L123.56 402.26L125.53 399.83L125.53 416.80M124.87 400.64L124.87 416.80M122.25 416.80L128.15 416.80" fill="none" stroke="#000" stroke-width="2.10" stroke-linecap="round" stroke-linejoin="round"/>
<path d="M96.52 322.44L97.85 321.63L99.83 319.21L99.83 336.17M99.17 320.01L99.17 336.17M96.52 336.17L102.47 336.17" fill="none" stroke="#000" stroke-width="1.95" stroke-linecap="round" stroke-linejoin="round"/><path d="M114.58 319.21L112.05 320.01L110.37 322.44L109.52 326.48L109.52 328.90L110.37 332.94L112.05 335.37L114.58 336.17L116.27 336.17L118.80 335.37L120.48 332.94L121.32 328.90L121.32 326.48L120.48 322.44L118.80 320.01L116.27 319.21L114.58 319.21M114.58 319.21L112.90 320.01L112.05 320.82L111.21 322.44L110.37 326.48L110.37 328.90L111.21 332.94L112.05 334.56L112.90 335.37L114.58 336.17M116.27 336.17L117.95 335.37L118.80 334.56L119.64 332.94L120.48 328.90L120.48 326.48L119.64 322.44L118.80 320.82L117.95 320.01L116.27 319.21" fill="none" stroke="#000" stroke-width="1.95" stroke-linecap="round" stroke-linejoin="round"/>
<path d="M126.62 320.21L127.38 319.73L128.51 318.29L128.51 328.37M128.14 318.77L128.14 328.37M126.62 328.37L130.02 328.37" fill="none" stroke="#000" stroke-width="1.95" stroke-linecap="round" stroke-linejoin="round"/>
<path d="M96.52 241.44L97.85 240.63L99.83 238.21L99.83 255.17M99.17 239.01L99.17 255.17M96.52 255.17L102.47 255.17" fill="none" stroke="#000" stroke-width="1.95" stroke-linecap="round" stroke-linejoin="round"/><path d="M114.58 238.21L112.05 239.01L110.37 241.44L109.52 245.48L109.52 247.90L110.37 251.94L112.05 254.37L114.58 255.17L116.27 255.17L118.80 254.37L120.48 251.94L121.32 247.90L121.32 245.48L120.48 241.44L118.80 239.01L116.27 238.21L114.58 238.21M114.58 238.21L112.90 239.01L112.05 239.82L111.21 241.44L110.37 245.48L110.37 247.90L111.21 251.94L112.05 253.56L112.90 254.37L114.58 255.17M116.27 255.17L117.95 254.37L118.80 253.56L119.64 251.94L120.48 247.90L120.48 245.48L119.64 241.44L118.80 239.82L117.95 239.01L116.27 238.21" fill="none" stroke="#000" stroke-width="1.95" stroke-linecap="round" stroke-linejoin="round"/>
<path d="M125.36 239.21L125.85 239.69L125.36 240.17L124.88 239.69L124.88 239.21L125.36 238.25L125.85 237.77L127.30 237.29L129.25 237.29L130.70 237.77L131.19 238.25L131.68 239.21L131.68 240.17L131.19 241.13L129.73 242.09L127.30 243.05L126.33 243.53L125.36 244.49L124.88 245.93L124.88 247.37M129.25 237.29L130.22 237.77L130.70 238.25L131.19 239.21L131.19 240.17L130.70 241.13L129.25 242.09L127.30 243.05M124.88 246.41L125.36 245.93L126.33 245.93L128.76 246.89L130.22 246.89L131.19 246.41L131.68 245.93M126.33 245.93L128.76 247.37L130.70 247.37L131.19 246.89L131.68 245.93L131.68 244.97" fill="none" stroke="#000" stroke-width="1.95" stroke-linecap="round" stroke-linejoin="round"/>
<path d="M96.52 160.44L97.85 159.63L99.83 157.21L99.83 174.17M99.17 158.01L99.17 174.17M96.52 174.17L102.47 174.17" fill="none" stroke="#000" stroke-width="1.95" stroke-linecap="round" stroke-linejoin="round"/><path d="M114.58 157.21L112.05 158.01L110.37 160.44L109.52 164.48L109.52 166.90L110.37 170.94L112.05 173.37L114.58 174.17L116.27 174.17L118.80 173.37L120.48 170.94L121.32 166.90L121.32 164.48L120.48 160.44L118.80 158.01L116.27 157.21L114.58 157.21M114.58 157.21L112.90 158.01L112.05 158.82L111.21 160.44L110.37 164.48L110.37 166.90L111.21 170.94L112.05 172.56L112.90 173.37L114.58 174.17M116.27 174.17L117.95 173.37L118.80 172.56L119.64 170.94L120.48 166.90L120.48 164.48L119.64 160.44L118.80 158.82L117.95 158.01L116.27 157.21" fill="none" stroke="#000" stroke-width="1.95" stroke-linecap="round" stroke-linejoin="round"/>
<path d="M125.36 158.21L125.85 158.69L125.36 159.17L124.88 158.69L124.88 158.21L125.36 157.25L125.85 156.77L127.30 156.29L129.25 156.29L130.70 156.77L131.19 157.73L131.19 159.17L130.70 160.13L129.25 160.61L127.79 160.61M129.25 156.29L130.22 156.77L130.70 157.73L130.70 159.17L130.22 160.13L129.25 160.61M129.25 160.61L130.22 161.09L131.19 162.05L131.68 163.01L131.68 164.45L131.19 165.41L130.70 165.89L129.25 166.37L127.30 166.37L125.85 165.89L125.36 165.41L124.88 164.45L124.88 163.97L125.36 163.49L125.85 163.97L125.36 164.45M130.70 161.57L131.19 163.01L131.19 164.45L130.70 165.41L130.22 165.89L129.25 166.37" fill="none" stroke="#000" stroke-width="1.95" stroke-linecap="round" stroke-linejoin="round"/>
<path d="M96.52 79.44L97.85 78.63L99.83 76.21L99.83 93.18M99.17 77.02L99.17 93.18M96.52 93.18L102.47 93.18" fill="none" stroke="#000" stroke-width="1.95" stroke-linecap="round" stroke-linejoin="round"/><path d="M114.58 76.21L112.05 77.02L110.37 79.44L109.52 83.48L109.52 85.90L110.37 89.94L112.05 92.37L114.58 93.18L116.27 93.18L118.80 92.37L120.48 89.94L121.32 85.90L121.32 83.48L120.48 79.44L118.80 77.02L116.27 76.21L114.58 76.21M114.58 76.21L112.90 77.02L112.05 77.82L111.21 79.44L110.37 83.48L110.37 85.90L111.21 89.94L112.05 91.56L112.90 92.37L114.58 93.18M116.27 93.18L117.95 92.37L118.80 91.56L119.64 89.94L120.48 85.90L120.48 83.48L119.64 79.44L118.80 77.82L117.95 77.02L116.27 76.21" fill="none" stroke="#000" stroke-width="1.95" stroke-linecap="round" stroke-linejoin="round"/>
<path d="M128.66 76.26L128.66 85.38M129.06 75.30L129.06 85.38M129.06 75.30L124.62 82.50L131.07 82.50M127.45 85.38L130.27 85.38" fill="none" stroke="#000" stroke-width="1.95" stroke-linecap="round" stroke-linejoin="round"/>
<path d="M266.15 668.89L267.46 668.07L269.43 665.61L269.43 682.85M268.77 666.43L268.77 682.85M266.15 682.85L272.05 682.85" fill="none" stroke="#000" stroke-width="2.10" stroke-linecap="round" stroke-linejoin="round"/>
<path d="M496.62 669.77L497.95 668.95L499.93 666.48L499.93 683.73M499.27 667.31L499.27 683.73M496.62 683.73L502.57 683.73" fill="none" stroke="#000" stroke-width="1.95" stroke-linecap="round" stroke-linejoin="round"/><path d="M514.68 666.48L512.15 667.31L510.47 669.77L509.62 673.87L509.62 676.34L510.47 680.44L512.15 682.90L514.68 683.73L516.37 683.73L518.90 682.90L520.58 680.44L521.43 676.34L521.43 673.87L520.58 669.77L518.90 667.31L516.37 666.48L514.68 666.48M514.68 666.48L513.00 667.31L512.15 668.13L511.31 669.77L510.47 673.87L510.47 676.34L511.31 680.44L512.15 682.08L513.00 682.90L514.68 683.73M516.37 683.73L518.05 682.90L518.90 682.08L519.74 680.44L520.58 676.34L520.58 673.87L519.74 669.77L518.90 668.13L518.05 667.31L516.37 666.48" fill="none" stroke="#000" stroke-width="1.95" stroke-linecap="round" stroke-linejoin="round"/>
<path d="M526.73 667.63L527.48 667.14L528.61 665.68L528.61 675.93M528.24 666.17L528.24 675.93M526.73 675.93L530.13 675.93" fill="none" stroke="#000" stroke-width="1.95" stroke-linecap="round" stroke-linejoin="round"/>
<path d="M739.58 669.77L740.90 668.95L742.88 666.48L742.88 683.73M742.22 667.31L742.22 683.73M739.58 683.73L745.52 683.73" fill="none" stroke="#000" stroke-width="1.95" stroke-linecap="round" stroke-linejoin="round"/><path d="M757.63 666.48L755.10 667.31L753.42 669.77L752.58 673.87L752.58 676.34L753.42 680.44L755.10 682.90L757.63 683.73L759.32 683.73L761.85 682.90L763.53 680.44L764.38 676.34L764.38 673.87L763.53 669.77L761.85 667.31L759.32 666.48L757.63 666.48M757.63 666.48L755.95 667.31L755.10 668.13L754.26 669.77L753.42 673.87L753.42 676.34L754.26 680.44L755.10 682.08L755.95 682.90L757.63 683.73M759.32 683.73L761.00 682.90L761.85 682.08L762.69 680.44L763.53 676.34L763.53 673.87L762.69 669.77L761.85 668.13L761.00 667.31L759.32 666.48" fill="none" stroke="#000" stroke-width="1.95" stroke-linecap="round" stroke-linejoin="round"/>
<path d="M768.41 667.63L768.90 668.12L768.41 668.61L767.93 668.12L767.93 667.63L768.41 666.65L768.90 666.17L770.35 665.68L772.30 665.68L773.75 666.17L774.24 666.65L774.73 667.63L774.73 668.61L774.24 669.58L772.78 670.56L770.35 671.53L769.38 672.02L768.41 673.00L767.93 674.46L767.93 675.93M772.30 665.68L773.27 666.17L773.75 666.65L774.24 667.63L774.24 668.61L773.75 669.58L772.30 670.56L770.35 671.53M767.93 674.95L768.41 674.46L769.38 674.46L771.81 675.44L773.27 675.44L774.24 674.95L774.73 674.46M769.38 674.46L771.81 675.93L773.75 675.93L774.24 675.44L774.73 674.46L774.73 673.49" fill="none" stroke="#000" stroke-width="1.95" stroke-linecap="round" stroke-linejoin="round"/>
<!-- legend top -->
<path d="M390.9 83.8H456.2" stroke="#000" stroke-width="4.5"/>
<path d="M468.14 75.39L468.14 92.25M468.94 75.39L468.94 92.25M465.75 75.39L471.33 75.39M465.75 92.25L471.33 92.25M476.91 81.01L476.91 92.25M477.71 81.01L477.71 92.25M477.71 83.42L479.30 81.81L481.69 81.01L483.29 81.01L485.68 81.81L486.48 83.42L486.48 92.25M483.29 81.01L484.88 81.81L485.68 83.42L485.68 92.25M474.52 81.01L477.71 81.01M474.52 92.25L480.10 92.25M483.29 92.25L488.87 92.25M494.45 75.39L494.45 89.04L495.24 91.45L496.84 92.25L498.43 92.25L500.03 91.45L500.82 89.84M495.24 75.39L495.24 89.04L496.04 91.45L496.84 92.25M492.06 81.01L498.43 81.01M506.40 81.01L506.40 92.25M507.20 81.01L507.20 92.25M507.20 85.83L508.00 83.42L509.59 81.81L511.19 81.01L513.58 81.01L514.38 81.81L514.38 82.61L513.58 83.42L512.78 82.61L513.58 81.81M504.01 81.01L507.20 81.01M504.01 92.25L509.59 92.25M519.96 75.39L519.16 76.19L519.96 76.99L520.75 76.19L519.96 75.39M519.96 81.01L519.96 92.25M520.75 81.01L520.75 92.25M517.56 81.01L520.75 81.01M517.56 92.25L523.14 92.25M528.72 81.01L528.72 92.25M529.52 81.01L529.52 92.25M529.52 83.42L531.12 81.81L533.51 81.01L535.10 81.01L537.49 81.81L538.29 83.42L538.29 92.25M535.10 81.01L536.70 81.81L537.49 83.42L537.49 92.25M526.33 81.01L529.52 81.01M526.33 92.25L531.91 92.25M535.10 92.25L540.68 92.25M552.64 82.61L553.44 81.01L553.44 84.22L552.64 82.61L551.84 81.81L550.25 81.01L547.06 81.01L545.46 81.81L544.67 82.61L544.67 84.22L545.46 85.02L547.06 85.83L551.04 87.43L552.64 88.23L553.44 89.04M544.67 83.42L545.46 84.22L547.06 85.02L551.04 86.63L552.64 87.43L553.44 88.23L553.44 90.64L552.64 91.45L551.04 92.25L547.86 92.25L546.26 91.45L545.46 90.64L544.67 89.04L544.67 92.25L545.46 90.64M559.81 75.39L559.02 76.19L559.81 76.99L560.61 76.19L559.81 75.39M559.81 81.01L559.81 92.25M560.61 81.01L560.61 92.25M557.42 81.01L560.61 81.01M557.42 92.25L563.00 92.25M576.55 83.42L575.76 84.22L576.55 85.02L577.35 84.22L577.35 83.42L575.76 81.81L574.16 81.01L571.77 81.01L569.38 81.81L567.78 83.42L566.99 85.83L566.99 87.43L567.78 89.84L569.38 91.45L571.77 92.25L573.36 92.25L575.76 91.45L577.35 89.84M571.77 81.01L570.18 81.81L568.58 83.42L567.78 85.83L567.78 87.43L568.58 89.84L570.18 91.45L571.77 92.25" fill="none" stroke="#000" stroke-width="1.50" stroke-linecap="round" stroke-linejoin="round"/><path d="M605.68 77.80L606.47 75.39L606.47 80.20L605.68 77.80L604.09 76.19L601.71 75.39L599.32 75.39L596.94 76.19L595.35 77.80L595.35 79.40L596.14 81.01L596.94 81.81L598.53 82.61L603.30 84.22L604.89 85.02L606.47 86.63M595.35 79.40L596.94 81.01L598.53 81.81L603.30 83.42L604.89 84.22L605.68 85.02L606.47 86.63L606.47 89.84L604.89 91.45L602.50 92.25L600.12 92.25L597.73 91.45L596.14 89.84L595.35 87.43L595.35 92.25L596.14 89.84M620.78 83.42L619.98 84.22L620.78 85.02L621.57 84.22L621.57 83.42L619.98 81.81L618.39 81.01L616.01 81.01L613.63 81.81L612.04 83.42L611.24 85.83L611.24 87.43L612.04 89.84L613.63 91.45L616.01 92.25L617.60 92.25L619.98 91.45L621.57 89.84M616.01 81.01L614.42 81.81L612.83 83.42L612.04 85.83L612.04 87.43L612.83 89.84L614.42 91.45L616.01 92.25M627.93 75.39L627.93 92.25M628.72 75.39L628.72 92.25M628.72 83.42L630.31 81.81L632.70 81.01L634.29 81.01L636.67 81.81L637.46 83.42L637.46 92.25M634.29 81.01L635.88 81.81L636.67 83.42L636.67 92.25M625.55 75.39L628.72 75.39M625.55 92.25L631.11 92.25M634.29 92.25L639.85 92.25M644.62 85.83L654.15 85.83L654.15 84.22L653.36 82.61L652.56 81.81L650.97 81.01L648.59 81.01L646.21 81.81L644.62 83.42L643.82 85.83L643.82 87.43L644.62 89.84L646.21 91.45L648.59 92.25L650.18 92.25L652.56 91.45L654.15 89.84M653.36 85.83L653.36 83.42L652.56 81.81M648.59 81.01L647.00 81.81L645.41 83.42L644.62 85.83L644.62 87.43L645.41 89.84L647.00 91.45L648.59 92.25M668.45 83.42L667.66 84.22L668.45 85.02L669.25 84.22L669.25 83.42L667.66 81.81L666.07 81.01L663.69 81.01L661.30 81.81L659.71 83.42L658.92 85.83L658.92 87.43L659.71 89.84L661.30 91.45L663.69 92.25L665.28 92.25L667.66 91.45L669.25 89.84M663.69 81.01L662.10 81.81L660.51 83.42L659.71 85.83L659.71 87.43L660.51 89.84L662.10 91.45L663.69 92.25M675.61 75.39L675.61 92.25M676.40 75.39L676.40 92.25M676.40 83.42L677.99 81.81L680.37 81.01L681.96 81.01L684.35 81.81L685.14 83.42L685.14 92.25M681.96 81.01L683.55 81.81L684.35 83.42L684.35 92.25M673.22 75.39L676.40 75.39M673.22 92.25L678.78 92.25M681.96 92.25L687.52 92.25M693.09 75.39L693.09 89.04L693.88 91.45L695.47 92.25L697.06 92.25L698.65 91.45L699.44 89.84M693.88 75.39L693.88 89.04L694.68 91.45L695.47 92.25M690.70 81.01L697.06 81.01M704.21 85.83L713.75 85.83L713.75 84.22L712.95 82.61L712.16 81.81L710.57 81.01L708.18 81.01L705.80 81.81L704.21 83.42L703.42 85.83L703.42 87.43L704.21 89.84L705.80 91.45L708.18 92.25L709.77 92.25L712.16 91.45L713.75 89.84M712.95 85.83L712.95 83.42L712.16 81.81M708.18 81.01L706.60 81.81L705.01 83.42L704.21 85.83L704.21 87.43L705.01 89.84L706.60 91.45L708.18 92.25M720.10 81.01L720.10 92.25M720.90 81.01L720.90 92.25M720.90 85.83L721.69 83.42L723.28 81.81L724.87 81.01L727.26 81.01L728.05 81.81L728.05 82.61L727.26 83.42L726.46 82.61L727.26 81.81M717.72 81.01L720.90 81.01M717.72 92.25L723.28 92.25" fill="none" stroke="#000" stroke-width="1.50" stroke-linecap="round" stroke-linejoin="round"/>
<path d="M474.10 117.65L465.85 128.85M474.85 117.65L466.60 128.85M466.60 117.65L465.85 120.85L465.85 117.65L474.85 117.65M465.85 128.85L474.85 128.85L474.85 125.65L474.10 128.85" fill="none" stroke="#000" stroke-width="1.50" stroke-linecap="round" stroke-linejoin="round"/><path d="M483.84 130.74L484.27 129.81L484.27 131.67L483.84 130.74L483.41 130.28L482.55 129.81L480.82 129.81L479.96 130.28L479.53 130.74L479.53 131.67L479.96 132.14L480.82 132.60L482.98 133.53L483.84 134.00L484.27 134.46M479.53 131.21L479.96 131.67L480.82 132.14L482.98 133.07L483.84 133.53L484.27 134.00L484.27 135.39L483.84 135.86L482.98 136.32L481.25 136.32L480.39 135.86L479.96 135.39L479.53 134.46L479.53 136.32L479.96 135.39" fill="none" stroke="#000" stroke-width="1.85" stroke-linecap="round" stroke-linejoin="round"/><path d="M489.55 119.25L503.05 119.25M489.55 124.05L503.05 124.05" fill="none" stroke="#000" stroke-width="1.50" stroke-linecap="round" stroke-linejoin="round"/><path d="M509.61 115.25L510.46 116.05L509.61 116.85L508.75 116.05L508.75 115.25L509.61 113.65L510.46 112.85L513.04 112.05L516.46 112.05L519.04 112.85L519.89 113.65L520.75 115.25L520.75 116.85L519.89 118.45L517.32 120.05L513.04 121.65L511.32 122.45L509.61 124.05L508.75 126.45L508.75 128.85M516.46 112.05L518.18 112.85L519.04 113.65L519.89 115.25L519.89 116.85L519.04 118.45L516.46 120.05L513.04 121.65M508.75 127.25L509.61 126.45L511.32 126.45L515.61 128.05L518.18 128.05L519.89 127.25L520.75 126.45M511.32 126.45L515.61 128.85L519.04 128.85L519.89 128.05L520.75 126.45L520.75 124.85" fill="none" stroke="#000" stroke-width="1.50" stroke-linecap="round" stroke-linejoin="round"/><path d="M527.30 127.25L526.35 128.05L527.30 128.85L528.25 128.05L527.30 127.25" fill="none" stroke="#000" stroke-width="1.50" stroke-linecap="round" stroke-linejoin="round"/><path d="M536.65 115.25L538.07 114.45L540.21 112.05L540.21 128.85M539.49 112.85L539.49 128.85M536.65 128.85L543.05 128.85" fill="none" stroke="#000" stroke-width="1.50" stroke-linecap="round" stroke-linejoin="round"/>
<!-- legend bottom -->
<path d="M184 489.05H255" stroke="#0b6b3b" stroke-width="1.55"/>
<path d="M184.6 528.9H252" stroke="#ff0000" stroke-width="2.1" stroke-linecap="round" stroke-dasharray="0.01 5.55"/>
<path d="M184 569.6H252" stroke="#0000ff" stroke-width="1.9" stroke-dasharray="11.7 6.4"/>
<path d="M273.51 479.28L273.51 496.25M274.29 479.28L274.29 496.25M271.15 479.28L276.65 479.28M271.15 496.25L282.94 496.25L282.94 491.40L282.15 496.25M286.86 489.79L296.29 489.79L296.29 488.17L295.51 486.55L294.72 485.75L293.15 484.94L290.79 484.94L288.44 485.75L286.86 487.36L286.08 489.79L286.08 491.40L286.86 493.83L288.44 495.44L290.79 496.25L292.36 496.25L294.72 495.44L296.29 493.83M295.51 489.79L295.51 487.36L294.72 485.75M290.79 484.94L289.22 485.75L287.65 487.36L286.86 489.79L286.86 491.40L287.65 493.83L289.22 495.44L290.79 496.25M302.58 484.94L302.58 496.25M303.36 484.94L303.36 496.25M303.36 487.36L304.94 485.75L307.29 484.94L308.86 484.94L311.22 485.75L312.01 487.36L312.01 496.25M308.86 484.94L310.44 485.75L311.22 487.36L311.22 496.25M300.22 484.94L303.36 484.94M300.22 496.25L305.72 496.25M308.86 496.25L314.36 496.25M326.15 486.55L326.94 484.94L326.94 488.17L326.15 486.55L325.36 485.75L323.79 484.94L320.65 484.94L319.08 485.75L318.29 486.55L318.29 488.17L319.08 488.98L320.65 489.79L324.58 491.40L326.15 492.21L326.94 493.02M318.29 487.36L319.08 488.17L320.65 488.98L324.58 490.59L326.15 491.40L326.94 492.21L326.94 494.63L326.15 495.44L324.58 496.25L321.44 496.25L319.86 495.44L319.08 494.63L318.29 493.02L318.29 496.25L319.08 494.63M332.44 489.79L341.86 489.79L341.86 488.17L341.08 486.55L340.29 485.75L338.72 484.94L336.36 484.94L334.01 485.75L332.44 487.36L331.65 489.79L331.65 491.40L332.44 493.83L334.01 495.44L336.36 496.25L337.94 496.25L340.29 495.44L341.86 493.83M341.08 489.79L341.08 487.36L340.29 485.75M336.36 484.94L334.79 485.75L333.22 487.36L332.44 489.79L332.44 491.40L333.22 493.83L334.79 495.44L336.36 496.25M356.01 479.28L356.01 496.25M356.79 479.28L356.79 496.25M356.01 487.36L354.44 485.75L352.86 484.94L351.29 484.94L348.94 485.75L347.36 487.36L346.58 489.79L346.58 491.40L347.36 493.83L348.94 495.44L351.29 496.25L352.86 496.25L354.44 495.44L356.01 493.83M351.29 484.94L349.72 485.75L348.15 487.36L347.36 489.79L347.36 491.40L348.15 493.83L349.72 495.44L351.29 496.25M353.65 479.28L356.79 479.28M356.01 496.25L359.15 496.25" fill="none" stroke="#0b6b3b" stroke-width="1.50" stroke-linecap="round" stroke-linejoin="round"/><path d="M386.97 479.28L386.97 496.25M387.74 479.28L387.74 496.25M386.97 487.36L385.41 485.75L383.86 484.94L382.31 484.94L379.98 485.75L378.43 487.36L377.65 489.79L377.65 491.40L378.43 493.83L379.98 495.44L382.31 496.25L383.86 496.25L385.41 495.44L386.97 493.83M382.31 484.94L380.76 485.75L379.20 487.36L378.43 489.79L378.43 491.40L379.20 493.83L380.76 495.44L382.31 496.25M384.64 479.28L387.74 479.28M386.97 496.25L390.07 496.25M395.51 484.94L395.51 496.25M396.28 484.94L396.28 496.25M396.28 487.36L397.83 485.75L400.16 484.94L401.72 484.94L404.04 485.75L404.82 487.36L404.82 496.25M401.72 484.94L403.27 485.75L404.04 487.36L404.04 496.25M393.18 484.94L396.28 484.94M393.18 496.25L398.61 496.25M401.72 496.25L407.15 496.25" fill="none" stroke="#0b6b3b" stroke-width="1.50" stroke-linecap="round" stroke-linejoin="round"/><path d="M411.40 500.90L426.20 476.50" fill="none" stroke="#0b6b3b" stroke-width="1.50" stroke-linecap="round"/><path d="M439.08 479.28L439.08 496.25M439.90 479.28L439.90 496.25M439.08 487.36L437.44 485.75L435.80 484.94L434.16 484.94L431.71 485.75L430.07 487.36L429.25 489.79L429.25 491.40L430.07 493.83L431.71 495.44L434.16 496.25L435.80 496.25L437.44 495.44L439.08 493.83M434.16 484.94L432.53 485.75L430.89 487.36L430.07 489.79L430.07 491.40L430.89 493.83L432.53 495.44L434.16 496.25M436.62 479.28L439.90 479.28M439.08 496.25L442.36 496.25M448.09 479.28L448.09 496.25M448.91 479.28L448.91 496.25M445.63 479.28L448.91 479.28M445.63 496.25L451.37 496.25M457.10 484.94L457.10 496.25M457.92 484.94L457.92 496.25M457.92 487.36L459.56 485.75L462.01 484.94L463.65 484.94L466.11 485.75L466.93 487.36L466.93 496.25M463.65 484.94L465.29 485.75L466.11 487.36L466.11 496.25M454.64 484.94L457.92 484.94M454.64 496.25L460.38 496.25M463.65 496.25L469.39 496.25M484.13 481.71L484.95 479.28L484.95 484.13L484.13 481.71L482.49 480.09L480.04 479.28L477.58 479.28L475.12 480.09L473.48 481.71L473.48 483.32L474.30 484.94L475.12 485.75L476.76 486.55L481.67 488.17L483.31 488.98L484.95 490.59M473.48 483.32L475.12 484.94L476.76 485.75L481.67 487.36L483.31 488.17L484.13 488.98L484.95 490.59L484.95 493.83L483.31 495.44L480.85 496.25L478.40 496.25L475.94 495.44L474.30 493.83L473.48 491.40L473.48 496.25L474.30 493.83" fill="none" stroke="#0b6b3b" stroke-width="1.50" stroke-linecap="round" stroke-linejoin="round"/>
<path d="M273.64 518.05L273.64 534.95M274.43 518.05L274.43 534.95M271.25 518.05L280.80 518.05L283.18 518.85L283.98 519.66L284.78 521.27L284.78 523.68L283.98 525.29L283.18 526.10L280.80 526.90L274.43 526.90M280.80 518.05L282.39 518.85L283.18 519.66L283.98 521.27L283.98 523.68L283.18 525.29L282.39 526.10L280.80 526.90M271.25 534.95L276.82 534.95M291.14 523.68L291.14 534.95M291.94 523.68L291.94 534.95M291.94 528.51L292.73 526.10L294.32 524.49L295.92 523.68L298.30 523.68L299.10 524.49L299.10 525.29L298.30 526.10L297.51 525.29L298.30 524.49M288.75 523.68L291.94 523.68M288.75 534.95L294.32 534.95M303.87 528.51L313.42 528.51L313.42 526.90L312.62 525.29L311.83 524.49L310.24 523.68L307.85 523.68L305.46 524.49L303.87 526.10L303.08 528.51L303.08 530.12L303.87 532.54L305.46 534.15L307.85 534.95L309.44 534.95L311.83 534.15L313.42 532.54M312.62 528.51L312.62 526.10L311.83 524.49M307.85 523.68L306.26 524.49L304.67 526.10L303.87 528.51L303.87 530.12L304.67 532.54L306.26 534.15L307.85 534.95M326.15 525.29L326.95 523.68L326.95 526.90L326.15 525.29L325.35 524.49L323.76 523.68L320.58 523.68L318.99 524.49L318.19 525.29L318.19 526.90L318.99 527.71L320.58 528.51L324.56 530.12L326.15 530.93L326.95 531.73M318.19 526.10L318.99 526.90L320.58 527.71L324.56 529.32L326.15 530.12L326.95 530.93L326.95 533.34L326.15 534.15L324.56 534.95L321.38 534.95L319.78 534.15L318.99 533.34L318.19 531.73L318.19 534.95L318.99 533.34M341.27 526.10L340.47 526.90L341.27 527.71L342.06 526.90L342.06 526.10L340.47 524.49L338.88 523.68L336.49 523.68L334.11 524.49L332.52 526.10L331.72 528.51L331.72 530.12L332.52 532.54L334.11 534.15L336.49 534.95L338.08 534.95L340.47 534.15L342.06 532.54M336.49 523.68L334.90 524.49L333.31 526.10L332.52 528.51L332.52 530.12L333.31 532.54L334.90 534.15L336.49 534.95M348.43 523.68L348.43 534.95M349.22 523.68L349.22 534.95M349.22 528.51L350.02 526.10L351.61 524.49L353.20 523.68L355.59 523.68L356.38 524.49L356.38 525.29L355.59 526.10L354.79 525.29L355.59 524.49M346.04 523.68L349.22 523.68M346.04 534.95L351.61 534.95M361.95 518.05L361.16 518.85L361.95 519.66L362.75 518.85L361.95 518.05M361.95 523.68L361.95 534.95M362.75 523.68L362.75 534.95M359.57 523.68L362.75 523.68M359.57 534.95L365.14 534.95M370.71 523.68L370.71 540.59M371.50 523.68L371.50 540.59M371.50 526.10L373.09 524.49L374.68 523.68L376.28 523.68L378.66 524.49L380.25 526.10L381.05 528.51L381.05 530.12L380.25 532.54L378.66 534.15L376.28 534.95L374.68 534.95L373.09 534.15L371.50 532.54M376.28 523.68L377.87 524.49L379.46 526.10L380.25 528.51L380.25 530.12L379.46 532.54L377.87 534.15L376.28 534.95M368.32 523.68L371.50 523.68M368.32 540.59L373.89 540.59M387.42 518.05L387.42 531.73L388.21 534.15L389.80 534.95L391.39 534.95L392.98 534.15L393.78 532.54M388.21 518.05L388.21 531.73L389.01 534.15L389.80 534.95M385.03 523.68L391.39 523.68M399.35 518.05L398.55 518.85L399.35 519.66L400.15 518.85L399.35 518.05M399.35 523.68L399.35 534.95M400.15 523.68L400.15 534.95M396.96 523.68L400.15 523.68M396.96 534.95L402.53 534.95M411.28 523.68L408.90 524.49L407.31 526.10L406.51 528.51L406.51 530.12L407.31 532.54L408.90 534.15L411.28 534.95L412.88 534.95L415.26 534.15L416.85 532.54L417.65 530.12L417.65 528.51L416.85 526.10L415.26 524.49L412.88 523.68L411.28 523.68M411.28 523.68L409.69 524.49L408.10 526.10L407.31 528.51L407.31 530.12L408.10 532.54L409.69 534.15L411.28 534.95M412.88 534.95L414.47 534.15L416.06 532.54L416.85 530.12L416.85 528.51L416.06 526.10L414.47 524.49L412.88 523.68M424.02 523.68L424.02 534.95M424.81 523.68L424.81 534.95M424.81 526.10L426.40 524.49L428.79 523.68L430.38 523.68L432.77 524.49L433.56 526.10L433.56 534.95M430.38 523.68L431.97 524.49L432.77 526.10L432.77 534.95M421.63 523.68L424.81 523.68M421.63 534.95L427.20 534.95M430.38 534.95L435.95 534.95" fill="none" stroke="#ff0000" stroke-width="1.50" stroke-linecap="round" stroke-linejoin="round"/><path d="M459.25 518.05L454.19 534.95M459.25 518.05L464.31 534.95M459.25 520.46L463.58 534.95M455.64 530.12L462.14 530.12M452.75 534.95L457.08 534.95M461.42 534.95L465.75 534.95" fill="none" stroke="#ff0000" stroke-width="1.50" stroke-linecap="round" stroke-linejoin="round"/>
<path d="M273.64 558.45L273.64 575.35M274.43 558.45L274.43 575.35M271.25 558.45L280.80 558.45L283.18 559.25L283.98 560.06L284.78 561.67L284.78 564.08L283.98 565.69L283.18 566.50L280.80 567.30L274.43 567.30M280.80 558.45L282.39 559.25L283.18 560.06L283.98 561.67L283.98 564.08L283.18 565.69L282.39 566.50L280.80 567.30M271.25 575.35L276.82 575.35M291.14 564.08L291.14 575.35M291.94 564.08L291.94 575.35M291.94 568.91L292.73 566.50L294.32 564.88L295.92 564.08L298.30 564.08L299.10 564.88L299.10 565.69L298.30 566.50L297.51 565.69L298.30 564.88M288.75 564.08L291.94 564.08M288.75 575.35L294.32 575.35M303.87 568.91L313.42 568.91L313.42 567.30L312.62 565.69L311.83 564.88L310.24 564.08L307.85 564.08L305.46 564.88L303.87 566.50L303.08 568.91L303.08 570.52L303.87 572.94L305.46 574.55L307.85 575.35L309.44 575.35L311.83 574.55L313.42 572.94M312.62 568.91L312.62 566.50L311.83 564.88M307.85 564.08L306.26 564.88L304.67 566.50L303.87 568.91L303.87 570.52L304.67 572.94L306.26 574.55L307.85 575.35M326.15 565.69L326.95 564.08L326.95 567.30L326.15 565.69L325.35 564.88L323.76 564.08L320.58 564.08L318.99 564.88L318.19 565.69L318.19 567.30L318.99 568.11L320.58 568.91L324.56 570.52L326.15 571.33L326.95 572.13M318.19 566.50L318.99 567.30L320.58 568.11L324.56 569.72L326.15 570.52L326.95 571.33L326.95 573.74L326.15 574.55L324.56 575.35L321.38 575.35L319.78 574.55L318.99 573.74L318.19 572.13L318.19 575.35L318.99 573.74M341.27 566.50L340.47 567.30L341.27 568.11L342.06 567.30L342.06 566.50L340.47 564.88L338.88 564.08L336.49 564.08L334.11 564.88L332.52 566.50L331.72 568.91L331.72 570.52L332.52 572.94L334.11 574.55L336.49 575.35L338.08 575.35L340.47 574.55L342.06 572.94M336.49 564.08L334.90 564.88L333.31 566.50L332.52 568.91L332.52 570.52L333.31 572.94L334.90 574.55L336.49 575.35M348.43 564.08L348.43 575.35M349.22 564.08L349.22 575.35M349.22 568.91L350.02 566.50L351.61 564.88L353.20 564.08L355.59 564.08L356.38 564.88L356.38 565.69L355.59 566.50L354.79 565.69L355.59 564.88M346.04 564.08L349.22 564.08M346.04 575.35L351.61 575.35M361.95 558.45L361.16 559.25L361.95 560.06L362.75 559.25L361.95 558.45M361.95 564.08L361.95 575.35M362.75 564.08L362.75 575.35M359.57 564.08L362.75 564.08M359.57 575.35L365.14 575.35M370.71 564.08L370.71 580.99M371.50 564.08L371.50 580.99M371.50 566.50L373.09 564.88L374.68 564.08L376.28 564.08L378.66 564.88L380.25 566.50L381.05 568.91L381.05 570.52L380.25 572.94L378.66 574.55L376.28 575.35L374.68 575.35L373.09 574.55L371.50 572.94M376.28 564.08L377.87 564.88L379.46 566.50L380.25 568.91L380.25 570.52L379.46 572.94L377.87 574.55L376.28 575.35M368.32 564.08L371.50 564.08M368.32 580.99L373.89 580.99M387.42 558.45L387.42 572.13L388.21 574.55L389.80 575.35L391.39 575.35L392.98 574.55L393.78 572.94M388.21 558.45L388.21 572.13L389.01 574.55L389.80 575.35M385.03 564.08L391.39 564.08M399.35 558.45L398.55 559.25L399.35 560.06L400.15 559.25L399.35 558.45M399.35 564.08L399.35 575.35M400.15 564.08L400.15 575.35M396.96 564.08L400.15 564.08M396.96 575.35L402.53 575.35M411.28 564.08L408.90 564.88L407.31 566.50L406.51 568.91L406.51 570.52L407.31 572.94L408.90 574.55L411.28 575.35L412.88 575.35L415.26 574.55L416.85 572.94L417.65 570.52L417.65 568.91L416.85 566.50L415.26 564.88L412.88 564.08L411.28 564.08M411.28 564.08L409.69 564.88L408.10 566.50L407.31 568.91L407.31 570.52L408.10 572.94L409.69 574.55L411.28 575.35M412.88 575.35L414.47 574.55L416.06 572.94L416.85 570.52L416.85 568.91L416.06 566.50L414.47 564.88L412.88 564.08M424.02 564.08L424.02 575.35M424.81 564.08L424.81 575.35M424.81 566.50L426.40 564.88L428.79 564.08L430.38 564.08L432.77 564.88L433.56 566.50L433.56 575.35M430.38 564.08L431.97 564.88L432.77 566.50L432.77 575.35M421.63 564.08L424.81 564.08M421.63 575.35L427.20 575.35M430.38 575.35L435.95 575.35" fill="none" stroke="#0000ff" stroke-width="1.50" stroke-linecap="round" stroke-linejoin="round"/><path d="M455.71 558.45L455.71 575.35M456.46 558.45L456.46 575.35M453.45 558.45L462.49 558.45L464.74 559.25L465.50 560.06L466.25 561.67L466.25 563.27L465.50 564.88L464.74 565.69L462.49 566.50M462.49 558.45L463.99 559.25L464.74 560.06L465.50 561.67L465.50 563.27L464.74 564.88L463.99 565.69L462.49 566.50M456.46 566.50L462.49 566.50L464.74 567.30L465.50 568.11L466.25 569.72L466.25 572.13L465.50 573.74L464.74 574.55L462.49 575.35L453.45 575.35M462.49 566.50L463.99 567.30L464.74 568.11L465.50 569.72L465.50 572.13L464.74 573.74L463.99 574.55L462.49 575.35" fill="none" stroke="#0000ff" stroke-width="1.50" stroke-linecap="round" stroke-linejoin="round"/>
<!-- axis labels -->
<path d="M432.58 709.24L433.40 706.75L433.40 711.73L432.58 709.24L430.95 707.58L428.49 706.75L426.04 706.75L423.59 707.58L421.95 709.24L421.95 710.90L422.77 712.57L423.59 713.40L425.22 714.23L430.13 715.89L431.76 716.72L433.40 718.38M421.95 710.90L423.59 712.57L425.22 713.40L430.13 715.06L431.76 715.89L432.58 716.72L433.40 718.38L433.40 721.71L431.76 723.37L429.31 724.20L426.86 724.20L424.40 723.37L422.77 721.71L421.95 719.21L421.95 724.20L422.77 721.71" fill="none" stroke="#000" stroke-width="1.90" stroke-linecap="round" stroke-linejoin="round"/><path d="M437.75 729.00L451.85 704.90" fill="none" stroke="#000" stroke-width="1.75" stroke-linecap="round"/><path d="M466.88 709.24L467.70 706.75L467.70 711.73L466.88 709.24L465.25 707.58L462.79 706.75L460.34 706.75L457.89 707.58L456.25 709.24L456.25 710.90L457.07 712.57L457.89 713.40L459.52 714.23L464.43 715.89L466.06 716.72L467.70 718.38M456.25 710.90L457.89 712.57L459.52 713.40L464.43 715.06L466.06 715.89L466.88 716.72L467.70 718.38L467.70 721.71L466.06 723.37L463.61 724.20L461.16 724.20L458.70 723.37L457.07 721.71L456.25 719.21L456.25 724.20L457.07 721.71" fill="none" stroke="#000" stroke-width="1.90" stroke-linecap="round" stroke-linejoin="round"/><path d="M476.40 707.25L476.40 715.95M472.55 709.42L480.25 713.77M480.25 709.42L472.55 713.77" fill="none" stroke="#000" stroke-width="1.90" stroke-linecap="round" stroke-linejoin="round"/>
<g transform="translate(0 500) rotate(-90)">
<path d="M56.44 40.06L56.44 57.70M57.25 40.06L57.25 57.70M56.44 48.46L54.83 46.78L53.21 45.94L51.60 45.94L49.17 46.78L47.56 48.46L46.75 50.98L46.75 52.66L47.56 55.18L49.17 56.86L51.60 57.70L53.21 57.70L54.83 56.86L56.44 55.18M51.60 45.94L49.98 46.78L48.37 48.46L47.56 50.98L47.56 52.66L48.37 55.18L49.98 56.86L51.60 57.70M54.02 40.06L57.25 40.06M56.44 57.70L59.68 57.70M65.33 45.94L65.33 57.70M66.14 45.94L66.14 57.70M66.14 48.46L67.76 46.78L70.18 45.94L71.79 45.94L74.22 46.78L75.03 48.46L75.03 57.70M71.79 45.94L73.41 46.78L74.22 48.46L74.22 57.70M62.91 45.94L66.14 45.94M62.91 57.70L68.56 57.70M71.79 57.70L77.45 57.70" fill="none" stroke="#000" stroke-width="1.90" stroke-linecap="round" stroke-linejoin="round"/><path d="M81.65 62.30L95.05 38.00" fill="none" stroke="#000" stroke-width="1.75" stroke-linecap="round"/><path d="M109.04 40.06L109.04 57.70M109.84 40.06L109.84 57.70M109.04 48.46L107.46 46.78L105.88 45.94L104.30 45.94L101.92 46.78L100.34 48.46L99.55 50.98L99.55 52.66L100.34 55.18L101.92 56.86L104.30 57.70L105.88 57.70L107.46 56.86L109.04 55.18M104.30 45.94L102.71 46.78L101.13 48.46L100.34 50.98L100.34 52.66L101.13 55.18L102.71 56.86L104.30 57.70M106.67 40.06L109.84 40.06M109.04 57.70L112.21 57.70M117.75 40.06L117.75 57.70M118.54 40.06L118.54 57.70M115.37 40.06L118.54 40.06M115.37 57.70L120.91 57.70M126.45 45.94L126.45 57.70M127.24 45.94L127.24 57.70M127.24 48.46L128.82 46.78L131.20 45.94L132.78 45.94L135.15 46.78L135.94 48.46L135.94 57.70M132.78 45.94L134.36 46.78L135.15 48.46L135.15 57.70M124.08 45.94L127.24 45.94M124.08 57.70L129.61 57.70M132.78 57.70L138.32 57.70M152.56 42.58L153.35 40.06L153.35 45.10L152.56 42.58L150.98 40.90L148.60 40.06L146.23 40.06L143.86 40.90L142.27 42.58L142.27 44.26L143.06 45.94L143.86 46.78L145.44 47.62L150.19 49.30L151.77 50.14L153.35 51.82M142.27 44.26L143.86 45.94L145.44 46.78L150.19 48.46L151.77 49.30L152.56 50.14L153.35 51.82L153.35 55.18L151.77 56.86L149.39 57.70L147.02 57.70L144.65 56.86L143.06 55.18L142.27 52.66L142.27 57.70L143.06 55.18" fill="none" stroke="#000" stroke-width="1.90" stroke-linecap="round" stroke-linejoin="round"/><path d="M172.35 37.05L172.35 62.85M173.04 37.05L173.04 62.85M172.35 37.05L177.15 37.05M172.35 62.85L177.15 62.85" fill="none" stroke="#000" stroke-width="1.90" stroke-linecap="round" stroke-linejoin="round"/><path d="M192.10 40.06L192.10 57.70M192.91 40.06L192.91 57.70M192.10 48.46L190.47 46.78L188.85 45.94L187.22 45.94L184.79 46.78L183.16 48.46L182.35 50.98L182.35 52.66L183.16 55.18L184.79 56.86L187.22 57.70L188.85 57.70L190.47 56.86L192.10 55.18M187.22 45.94L185.60 46.78L183.97 48.46L183.16 50.98L183.16 52.66L183.97 55.18L185.60 56.86L187.22 57.70M189.66 40.06L192.91 40.06M192.10 57.70L195.35 57.70M200.22 50.98L209.97 50.98L209.97 49.30L209.15 47.62L208.34 46.78L206.72 45.94L204.28 45.94L201.84 46.78L200.22 48.46L199.41 50.98L199.41 52.66L200.22 55.18L201.84 56.86L204.28 57.70L205.91 57.70L208.34 56.86L209.97 55.18M209.15 50.98L209.15 48.46L208.34 46.78M204.28 45.94L202.66 46.78L201.03 48.46L200.22 50.98L200.22 52.66L201.03 55.18L202.66 56.86L204.28 57.70M218.90 45.94L217.28 46.78L216.47 47.62L215.65 49.30L215.65 50.98L216.47 52.66L217.28 53.50L218.90 54.34L220.53 54.34L222.15 53.50L222.96 52.66L223.78 50.98L223.78 49.30L222.96 47.62L222.15 46.78L220.53 45.94L218.90 45.94M217.28 46.78L216.47 48.46L216.47 51.82L217.28 53.50M222.15 53.50L222.96 51.82L222.96 48.46L222.15 46.78M222.96 47.62L223.78 46.78L225.40 45.94L225.40 46.78L223.78 46.78M216.47 52.66L215.65 53.50L214.84 55.18L214.84 56.02L215.65 57.70L218.09 58.54L222.15 58.54L224.59 59.38L225.40 60.22M214.84 56.02L215.65 56.86L218.09 57.70L222.15 57.70L224.59 58.54L225.40 60.22L225.40 61.06L224.59 62.74L222.15 63.58L217.28 63.58L214.84 62.74L214.03 61.06L214.03 60.22L214.84 58.54L217.28 57.70" fill="none" stroke="#000" stroke-width="1.90" stroke-linecap="round" stroke-linejoin="round"/><path d="M230.40 45.60L236.90 45.60" fill="none" stroke="#000" stroke-width="2.20" stroke-linecap="round"/><path d="M241.44 41.38L241.82 41.84L241.44 42.29L241.05 41.84L241.05 41.38L241.44 40.46L241.82 40.01L242.98 39.55L244.52 39.55L245.68 40.01L246.06 40.46L246.45 41.38L246.45 42.29L246.06 43.21L244.91 44.12L242.98 45.04L242.21 45.49L241.44 46.41L241.05 47.78L241.05 49.15M244.52 39.55L245.29 40.01L245.68 40.46L246.06 41.38L246.06 42.29L245.68 43.21L244.52 44.12L242.98 45.04M241.05 48.24L241.44 47.78L242.21 47.78L244.14 48.69L245.29 48.69L246.06 48.24L246.45 47.78M242.21 47.78L244.14 49.15L245.68 49.15L246.06 48.69L246.45 47.78L246.45 46.86" fill="none" stroke="#000" stroke-width="1.90" stroke-linecap="round" stroke-linejoin="round"/><path d="M257.17 37.05L257.17 62.85M257.85 37.05L257.85 62.85M253.10 37.05L257.85 37.05M253.10 62.85L257.85 62.85" fill="none" stroke="#000" stroke-width="1.90" stroke-linecap="round" stroke-linejoin="round"/>
</g>
</svg>
</body></html>
